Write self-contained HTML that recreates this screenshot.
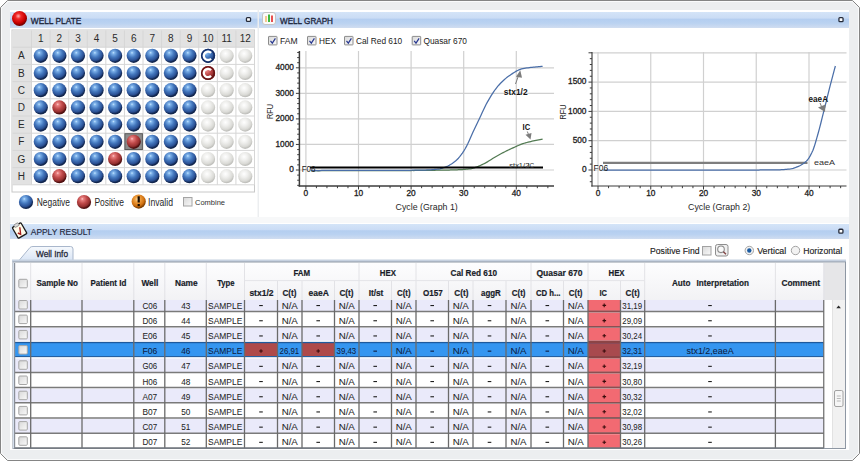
<!DOCTYPE html><html><head><meta charset="utf-8"><style>html,body{margin:0;padding:0;width:860px;height:461px;overflow:hidden;background:#fff;}svg{position:absolute;left:0;top:0;display:block;} text{font-family:"Liberation Sans",sans-serif;white-space:pre;}</style></head><body><svg width="860" height="461" viewBox="0 0 860 461" shape-rendering="auto"><defs>
<linearGradient id="hdr" x1="0" y1="0" x2="0" y2="1"><stop offset="0" stop-color="#d4e4f8"/><stop offset="0.38" stop-color="#cadcf5"/><stop offset="0.45" stop-color="#b4cef0"/><stop offset="0.7" stop-color="#bad2f1"/><stop offset="1" stop-color="#d0ddf0"/></linearGradient>
<radialGradient id="gb" cx="0.4" cy="0.32" fx="0.38" fy="0.28" r="0.62"><stop offset="0" stop-color="#c4e6ff"/><stop offset="0.15" stop-color="#7eb2ea"/><stop offset="0.5" stop-color="#4478be"/><stop offset="0.82" stop-color="#2a5094"/><stop offset="1" stop-color="#12264e"/></radialGradient>
<radialGradient id="gr" cx="0.4" cy="0.32" fx="0.38" fy="0.28" r="0.62"><stop offset="0" stop-color="#ffd0d0"/><stop offset="0.15" stop-color="#e88080"/><stop offset="0.5" stop-color="#c04a4a"/><stop offset="0.82" stop-color="#963030"/><stop offset="1" stop-color="#501010"/></radialGradient>
<radialGradient id="gw" cx="0.42" cy="0.34" r="0.62"><stop offset="0" stop-color="#ffffff"/><stop offset="0.4" stop-color="#efefed"/><stop offset="0.8" stop-color="#dadad6"/><stop offset="1" stop-color="#c0c0bc"/></radialGradient>
<radialGradient id="go" cx="0.42" cy="0.34" r="0.62"><stop offset="0" stop-color="#ffe0a8"/><stop offset="0.3" stop-color="#f0a040"/><stop offset="0.75" stop-color="#d07010"/><stop offset="1" stop-color="#7a3c00"/></radialGradient>
<radialGradient id="gred" cx="0.42" cy="0.34" r="0.62"><stop offset="0" stop-color="#ffb0b0"/><stop offset="0.3" stop-color="#f02828"/><stop offset="0.75" stop-color="#c80000"/><stop offset="1" stop-color="#780000"/></radialGradient>
<linearGradient id="hg" x1="0" y1="0" x2="0" y2="1"><stop offset="0" stop-color="#fdfdfe"/><stop offset="1" stop-color="#f2f2f5"/></linearGradient>
<linearGradient id="tabg" x1="0" y1="0" x2="0" y2="1"><stop offset="0" stop-color="#f6f9fd"/><stop offset="1" stop-color="#d9e5f5"/></linearGradient>
<linearGradient id="cbg" x1="0" y1="0" x2="1" y2="1"><stop offset="0" stop-color="#d8d8d8"/><stop offset="1" stop-color="#fafafa"/></linearGradient>
</defs><path d="M7.5,0.5 L852.5,0.5 L859.5,7.5 L859.5,453.5 L852.5,460.5 L7.5,460.5 L0.5,453.5 L0.5,7.5 Z" fill="#eceef0" stroke="#858585" stroke-width="1"/><path d="M8,1.5 L852,1.5 L858.5,8 L858.5,453 L852,459.5 L8,459.5 L1.5,453 L1.5,8 Z" fill="none" stroke="#fafbfc" stroke-width="1"/><rect x="10" y="28" width="247.5" height="189" fill="#fff"/><rect x="10" y="10" width="247.5" height="2" fill="#fff"/><rect x="10" y="12" width="247.5" height="16" fill="url(#hdr)"/><rect x="259" y="28" width="590" height="189" fill="#fff"/><rect x="259" y="10" width="590" height="2" fill="#fff"/><rect x="259" y="12" width="590" height="16" fill="url(#hdr)"/><rect x="10" y="217" width="839" height="7" fill="#f7f8f9"/><rect x="10" y="239" width="839" height="211" fill="#fff"/><rect x="10" y="223" width="839" height="1" fill="#fff"/><rect x="10" y="224" width="839" height="15" fill="url(#hdr)"/><rect x="246.45" y="17.55" width="4.1" height="3.9" rx="0.9" fill="#fff" stroke="#252b3a" stroke-width="1.3"/><rect x="838.95" y="17.65" width="4.1" height="3.9" rx="0.9" fill="#fff" stroke="#252b3a" stroke-width="1.3"/><rect x="838.85" y="229.25" width="4.1" height="3.9" rx="0.9" fill="#fff" stroke="#252b3a" stroke-width="1.3"/><circle cx="19.5" cy="18.5" r="7.5" fill="url(#gred)"/><text x="30.80" y="23.60" font-size="9.3" fill="#1e273c" textLength="50.50" lengthAdjust="spacingAndGlyphs" stroke="#1e273c" stroke-width="0.35">WELL PLATE</text><rect x="262.5" y="12.5" width="13" height="12" rx="2.5" fill="#fafafa" stroke="#c4c4c4" stroke-width="1"/><rect x="265" y="16" width="2" height="6" fill="#f4c890"/><rect x="268" y="14.5" width="2" height="7.5" fill="#40b840"/><rect x="271" y="15.5" width="2" height="6.5" fill="#e85050"/><text x="280.00" y="23.60" font-size="9.3" fill="#1e273c" textLength="53.00" lengthAdjust="spacingAndGlyphs" stroke="#1e273c" stroke-width="0.35">WELL GRAPH</text><g transform="translate(19.5,230.3) rotate(-30)"><rect x="-5" y="-6" width="10" height="12.5" rx="1" fill="#fffbea" stroke="#1a1a1a" stroke-width="1.3"/><rect x="-2.5" y="-7.5" width="5" height="3" rx="1" fill="#d8d8d8" stroke="#707070" stroke-width="0.6"/><path d="M-2.8,1.5 L-1,4 L1.8,-2.5" fill="none" stroke="#a82020" stroke-width="1.4"/></g><text x="30.80" y="234.90" font-size="9.3" fill="#1e273c" textLength="61.20" lengthAdjust="spacingAndGlyphs" stroke="#1e273c" stroke-width="0.15">APPLY RESULT</text><rect x="12" y="30" width="242.5" height="162" fill="#fff" stroke="#c8c8c8" stroke-width="1"/><rect x="12.5" y="30.5" width="241.5" height="16.7" fill="#e2e2e2"/><rect x="12.5" y="30.5" width="18.5" height="154.3" fill="#e2e2e2"/><line x1="31.50" y1="30.5" x2="31.50" y2="184.8" stroke="#d6d6d6" stroke-width="1"/><line x1="50.08" y1="30.5" x2="50.08" y2="184.8" stroke="#d6d6d6" stroke-width="1"/><line x1="68.67" y1="30.5" x2="68.67" y2="184.8" stroke="#d6d6d6" stroke-width="1"/><line x1="87.25" y1="30.5" x2="87.25" y2="184.8" stroke="#d6d6d6" stroke-width="1"/><line x1="105.83" y1="30.5" x2="105.83" y2="184.8" stroke="#d6d6d6" stroke-width="1"/><line x1="124.42" y1="30.5" x2="124.42" y2="184.8" stroke="#d6d6d6" stroke-width="1"/><line x1="143.00" y1="30.5" x2="143.00" y2="184.8" stroke="#d6d6d6" stroke-width="1"/><line x1="161.58" y1="30.5" x2="161.58" y2="184.8" stroke="#d6d6d6" stroke-width="1"/><line x1="180.17" y1="30.5" x2="180.17" y2="184.8" stroke="#d6d6d6" stroke-width="1"/><line x1="198.75" y1="30.5" x2="198.75" y2="184.8" stroke="#d6d6d6" stroke-width="1"/><line x1="217.33" y1="30.5" x2="217.33" y2="184.8" stroke="#d6d6d6" stroke-width="1"/><line x1="235.92" y1="30.5" x2="235.92" y2="184.8" stroke="#d6d6d6" stroke-width="1"/><line x1="254.50" y1="30.5" x2="254.50" y2="184.8" stroke="#d6d6d6" stroke-width="1"/><line x1="12.5" y1="47.20" x2="254.5" y2="47.20" stroke="#d6d6d6" stroke-width="1"/><line x1="12.5" y1="64.40" x2="254.5" y2="64.40" stroke="#d6d6d6" stroke-width="1"/><line x1="12.5" y1="81.60" x2="254.5" y2="81.60" stroke="#d6d6d6" stroke-width="1"/><line x1="12.5" y1="98.80" x2="254.5" y2="98.80" stroke="#d6d6d6" stroke-width="1"/><line x1="12.5" y1="116.00" x2="254.5" y2="116.00" stroke="#d6d6d6" stroke-width="1"/><line x1="12.5" y1="133.20" x2="254.5" y2="133.20" stroke="#d6d6d6" stroke-width="1"/><line x1="12.5" y1="150.40" x2="254.5" y2="150.40" stroke="#d6d6d6" stroke-width="1"/><line x1="12.5" y1="167.60" x2="254.5" y2="167.60" stroke="#d6d6d6" stroke-width="1"/><line x1="12.5" y1="184.80" x2="254.5" y2="184.80" stroke="#d6d6d6" stroke-width="1"/><text x="40.79" y="42.3" font-size="10" fill="#2a2a2a" text-anchor="middle">1</text><text x="59.38" y="42.3" font-size="10" fill="#2a2a2a" text-anchor="middle">2</text><text x="77.96" y="42.3" font-size="10" fill="#2a2a2a" text-anchor="middle">3</text><text x="96.54" y="42.3" font-size="10" fill="#2a2a2a" text-anchor="middle">4</text><text x="115.12" y="42.3" font-size="10" fill="#2a2a2a" text-anchor="middle">5</text><text x="133.71" y="42.3" font-size="10" fill="#2a2a2a" text-anchor="middle">6</text><text x="152.29" y="42.3" font-size="10" fill="#2a2a2a" text-anchor="middle">7</text><text x="170.88" y="42.3" font-size="10" fill="#2a2a2a" text-anchor="middle">8</text><text x="189.46" y="42.3" font-size="10" fill="#2a2a2a" text-anchor="middle">9</text><text x="208.04" y="42.3" font-size="10" fill="#2a2a2a" text-anchor="middle">10</text><text x="226.62" y="42.3" font-size="10" fill="#2a2a2a" text-anchor="middle">11</text><text x="245.21" y="42.3" font-size="10" fill="#2a2a2a" text-anchor="middle">12</text><text x="21.3" y="59.40" font-size="10" fill="#2a2a2a" text-anchor="middle">A</text><text x="21.3" y="76.60" font-size="10" fill="#2a2a2a" text-anchor="middle">B</text><text x="21.3" y="93.80" font-size="10" fill="#2a2a2a" text-anchor="middle">C</text><text x="21.3" y="111.00" font-size="10" fill="#2a2a2a" text-anchor="middle">D</text><text x="21.3" y="128.20" font-size="10" fill="#2a2a2a" text-anchor="middle">E</text><text x="21.3" y="145.40" font-size="10" fill="#2a2a2a" text-anchor="middle">F</text><text x="21.3" y="162.60" font-size="10" fill="#2a2a2a" text-anchor="middle">G</text><text x="21.3" y="179.80" font-size="10" fill="#2a2a2a" text-anchor="middle">H</text><circle cx="40.79" cy="55.80" r="7.1" fill="url(#gb)"/><circle cx="59.38" cy="55.80" r="7.1" fill="url(#gb)"/><circle cx="77.96" cy="55.80" r="7.1" fill="url(#gb)"/><circle cx="96.54" cy="55.80" r="7.1" fill="url(#gb)"/><circle cx="115.12" cy="55.80" r="7.1" fill="url(#gb)"/><circle cx="133.71" cy="55.80" r="7.1" fill="url(#gb)"/><circle cx="152.29" cy="55.80" r="7.1" fill="url(#gb)"/><circle cx="170.88" cy="55.80" r="7.1" fill="url(#gb)"/><circle cx="189.46" cy="55.80" r="7.1" fill="url(#gb)"/><circle cx="208.04" cy="55.80" r="7.1" fill="url(#gb)"/><circle cx="208.04" cy="55.80" r="6.3" fill="none" stroke="#16306a" stroke-width="1.6"/><path d="M 211.04 52.90 A 4.2 4.2 0 1 0 211.04 58.70" fill="none" stroke="#fff" stroke-width="2.3"/><circle cx="226.62" cy="55.80" r="7.1" fill="url(#gw)"/><circle cx="245.21" cy="55.80" r="7.1" fill="url(#gw)"/><circle cx="40.79" cy="73.00" r="7.1" fill="url(#gb)"/><circle cx="59.38" cy="73.00" r="7.1" fill="url(#gb)"/><circle cx="77.96" cy="73.00" r="7.1" fill="url(#gb)"/><circle cx="96.54" cy="73.00" r="7.1" fill="url(#gb)"/><circle cx="115.12" cy="73.00" r="7.1" fill="url(#gb)"/><circle cx="133.71" cy="73.00" r="7.1" fill="url(#gb)"/><circle cx="152.29" cy="73.00" r="7.1" fill="url(#gb)"/><circle cx="170.88" cy="73.00" r="7.1" fill="url(#gb)"/><circle cx="189.46" cy="73.00" r="7.1" fill="url(#gb)"/><circle cx="208.04" cy="73.00" r="7.1" fill="url(#gr)"/><circle cx="208.04" cy="73.00" r="6.3" fill="none" stroke="#6a1414" stroke-width="1.6"/><path d="M 211.04 70.10 A 4.2 4.2 0 1 0 211.04 75.90" fill="none" stroke="#fff" stroke-width="2.3"/><circle cx="226.62" cy="73.00" r="7.1" fill="url(#gw)"/><circle cx="245.21" cy="73.00" r="7.1" fill="url(#gw)"/><circle cx="40.79" cy="90.20" r="7.1" fill="url(#gb)"/><circle cx="59.38" cy="90.20" r="7.1" fill="url(#gb)"/><circle cx="77.96" cy="90.20" r="7.1" fill="url(#gb)"/><circle cx="96.54" cy="90.20" r="7.1" fill="url(#gb)"/><circle cx="115.12" cy="90.20" r="7.1" fill="url(#gb)"/><circle cx="133.71" cy="90.20" r="7.1" fill="url(#gb)"/><circle cx="152.29" cy="90.20" r="7.1" fill="url(#gb)"/><circle cx="170.88" cy="90.20" r="7.1" fill="url(#gb)"/><circle cx="189.46" cy="90.20" r="7.1" fill="url(#gb)"/><circle cx="208.04" cy="90.20" r="7.1" fill="url(#gw)"/><circle cx="226.62" cy="90.20" r="7.1" fill="url(#gw)"/><circle cx="245.21" cy="90.20" r="7.1" fill="url(#gw)"/><circle cx="40.79" cy="107.40" r="7.1" fill="url(#gb)"/><circle cx="59.38" cy="107.40" r="7.1" fill="url(#gr)"/><circle cx="77.96" cy="107.40" r="7.1" fill="url(#gb)"/><circle cx="96.54" cy="107.40" r="7.1" fill="url(#gb)"/><circle cx="115.12" cy="107.40" r="7.1" fill="url(#gb)"/><circle cx="133.71" cy="107.40" r="7.1" fill="url(#gb)"/><circle cx="152.29" cy="107.40" r="7.1" fill="url(#gb)"/><circle cx="170.88" cy="107.40" r="7.1" fill="url(#gb)"/><circle cx="189.46" cy="107.40" r="7.1" fill="url(#gb)"/><circle cx="208.04" cy="107.40" r="7.1" fill="url(#gw)"/><circle cx="226.62" cy="107.40" r="7.1" fill="url(#gw)"/><circle cx="245.21" cy="107.40" r="7.1" fill="url(#gw)"/><circle cx="40.79" cy="124.60" r="7.1" fill="url(#gb)"/><circle cx="59.38" cy="124.60" r="7.1" fill="url(#gb)"/><circle cx="77.96" cy="124.60" r="7.1" fill="url(#gb)"/><circle cx="96.54" cy="124.60" r="7.1" fill="url(#gb)"/><circle cx="115.12" cy="124.60" r="7.1" fill="url(#gb)"/><circle cx="133.71" cy="124.60" r="7.1" fill="url(#gb)"/><circle cx="152.29" cy="124.60" r="7.1" fill="url(#gb)"/><circle cx="170.88" cy="124.60" r="7.1" fill="url(#gb)"/><circle cx="189.46" cy="124.60" r="7.1" fill="url(#gb)"/><circle cx="208.04" cy="124.60" r="7.1" fill="url(#gw)"/><circle cx="226.62" cy="124.60" r="7.1" fill="url(#gw)"/><circle cx="245.21" cy="124.60" r="7.1" fill="url(#gw)"/><circle cx="40.79" cy="141.80" r="7.1" fill="url(#gb)"/><circle cx="59.38" cy="141.80" r="7.1" fill="url(#gb)"/><circle cx="77.96" cy="141.80" r="7.1" fill="url(#gb)"/><circle cx="96.54" cy="141.80" r="7.1" fill="url(#gb)"/><circle cx="115.12" cy="141.80" r="7.1" fill="url(#gb)"/><rect x="124.91" y="133.70" width="17.5" height="15.8" fill="#8c8c8c" stroke="#5a5a5a" stroke-width="1"/><circle cx="133.71" cy="141.80" r="7.1" fill="url(#gr)"/><circle cx="152.29" cy="141.80" r="7.1" fill="url(#gb)"/><circle cx="170.88" cy="141.80" r="7.1" fill="url(#gb)"/><circle cx="189.46" cy="141.80" r="7.1" fill="url(#gb)"/><circle cx="208.04" cy="141.80" r="7.1" fill="url(#gw)"/><circle cx="226.62" cy="141.80" r="7.1" fill="url(#gw)"/><circle cx="245.21" cy="141.80" r="7.1" fill="url(#gw)"/><circle cx="40.79" cy="159.00" r="7.1" fill="url(#gb)"/><circle cx="59.38" cy="159.00" r="7.1" fill="url(#gb)"/><circle cx="77.96" cy="159.00" r="7.1" fill="url(#gb)"/><circle cx="96.54" cy="159.00" r="7.1" fill="url(#gb)"/><circle cx="115.12" cy="159.00" r="7.1" fill="url(#gr)"/><circle cx="133.71" cy="159.00" r="7.1" fill="url(#gb)"/><circle cx="152.29" cy="159.00" r="7.1" fill="url(#gb)"/><circle cx="170.88" cy="159.00" r="7.1" fill="url(#gb)"/><circle cx="189.46" cy="159.00" r="7.1" fill="url(#gb)"/><circle cx="208.04" cy="159.00" r="7.1" fill="url(#gw)"/><circle cx="226.62" cy="159.00" r="7.1" fill="url(#gw)"/><circle cx="245.21" cy="159.00" r="7.1" fill="url(#gw)"/><circle cx="40.79" cy="176.20" r="7.1" fill="url(#gb)"/><circle cx="59.38" cy="176.20" r="7.1" fill="url(#gr)"/><circle cx="77.96" cy="176.20" r="7.1" fill="url(#gb)"/><circle cx="96.54" cy="176.20" r="7.1" fill="url(#gb)"/><circle cx="115.12" cy="176.20" r="7.1" fill="url(#gb)"/><circle cx="133.71" cy="176.20" r="7.1" fill="url(#gb)"/><circle cx="152.29" cy="176.20" r="7.1" fill="url(#gb)"/><circle cx="170.88" cy="176.20" r="7.1" fill="url(#gb)"/><circle cx="189.46" cy="176.20" r="7.1" fill="url(#gb)"/><circle cx="208.04" cy="176.20" r="7.1" fill="url(#gw)"/><circle cx="226.62" cy="176.20" r="7.1" fill="url(#gw)"/><circle cx="245.21" cy="176.20" r="7.1" fill="url(#gw)"/><circle cx="26" cy="202" r="7.1" fill="url(#gb)"/><circle cx="84" cy="202" r="7.1" fill="url(#gr)"/><circle cx="138.7" cy="201.6" r="7.1" fill="url(#go)"/><rect x="137.6" y="196.3" width="2.2" height="6.2" fill="#1a0c00"/><rect x="137.6" y="204" width="2.2" height="2.1" fill="#1a0c00"/><text x="36.80" y="206.00" font-size="10" fill="#282828" textLength="33.20" lengthAdjust="spacingAndGlyphs" >Negative</text><text x="94.40" y="206.00" font-size="10" fill="#282828" textLength="29.60" lengthAdjust="spacingAndGlyphs" >Positive</text><text x="148.00" y="206.00" font-size="10" fill="#282828" textLength="25.00" lengthAdjust="spacingAndGlyphs" >Invalid</text><rect x="183.5" y="197.5" width="8.5" height="8.5" fill="url(#cbg)" stroke="#a4a4a4" stroke-width="1"/><text x="195.00" y="204.80" font-size="8" fill="#303030" textLength="30.00" lengthAdjust="spacingAndGlyphs" >Combine</text><rect x="268.5" y="36.4" width="8.5" height="8.5" rx="0.5" fill="url(#cbg)" stroke="#8c8c8c" stroke-width="1"/><path d="M270.5,40.8 L272.3,43.1 L275.4,38.3" fill="none" stroke="#283890" stroke-width="1.2"/><text x="280.00" y="43.90" font-size="9.6" fill="#222" textLength="17.60" lengthAdjust="spacingAndGlyphs" >FAM</text><rect x="307.5" y="36.4" width="8.5" height="8.5" rx="0.5" fill="url(#cbg)" stroke="#8c8c8c" stroke-width="1"/><path d="M309.5,40.8 L311.3,43.1 L314.4,38.3" fill="none" stroke="#283890" stroke-width="1.2"/><text x="319.00" y="43.90" font-size="9.6" fill="#222" textLength="17.00" lengthAdjust="spacingAndGlyphs" >HEX</text><rect x="344.5" y="36.4" width="8.5" height="8.5" rx="0.5" fill="url(#cbg)" stroke="#8c8c8c" stroke-width="1"/><path d="M346.5,40.8 L348.3,43.1 L351.4,38.3" fill="none" stroke="#283890" stroke-width="1.2"/><text x="356.00" y="43.90" font-size="9.6" fill="#222" textLength="46.20" lengthAdjust="spacingAndGlyphs" >Cal Red 610</text><rect x="412.2" y="36.4" width="8.5" height="8.5" rx="0.5" fill="url(#cbg)" stroke="#8c8c8c" stroke-width="1"/><path d="M414.2,40.8 L416.0,43.1 L419.09999999999997,38.3" fill="none" stroke="#283890" stroke-width="1.2"/><text x="423.40" y="43.90" font-size="9.6" fill="#222" textLength="43.60" lengthAdjust="spacingAndGlyphs" >Quasar 670</text><line x1="299.4" y1="170.00" x2="554" y2="170.00" stroke="#d0d0d0" stroke-width="1.2"/><line x1="299.4" y1="144.45" x2="554" y2="144.45" stroke="#d0d0d0" stroke-width="1.2"/><line x1="299.4" y1="118.90" x2="554" y2="118.90" stroke="#d0d0d0" stroke-width="1.2"/><line x1="299.4" y1="93.35" x2="554" y2="93.35" stroke="#d0d0d0" stroke-width="1.2"/><line x1="299.4" y1="67.80" x2="554" y2="67.80" stroke="#d0d0d0" stroke-width="1.2"/><line x1="305.90" y1="51" x2="305.90" y2="186" stroke="#d0d0d0" stroke-width="1.2"/><line x1="358.50" y1="51" x2="358.50" y2="186" stroke="#d0d0d0" stroke-width="1.2"/><line x1="411.10" y1="51" x2="411.10" y2="186" stroke="#d0d0d0" stroke-width="1.2"/><line x1="463.70" y1="51" x2="463.70" y2="186" stroke="#d0d0d0" stroke-width="1.2"/><line x1="516.30" y1="51" x2="516.30" y2="186" stroke="#d0d0d0" stroke-width="1.2"/><line x1="299.4" y1="51" x2="299.4" y2="186.6" stroke="#3c3c3c" stroke-width="1.5"/><line x1="298.7" y1="186" x2="554" y2="186" stroke="#3c3c3c" stroke-width="1.5"/><line x1="297.20" y1="185.33" x2="299.4" y2="185.33" stroke="#3c3c3c" stroke-width="1"/><line x1="297.20" y1="180.22" x2="299.4" y2="180.22" stroke="#3c3c3c" stroke-width="1"/><line x1="297.20" y1="175.11" x2="299.4" y2="175.11" stroke="#3c3c3c" stroke-width="1"/><line x1="295.90" y1="170.00" x2="299.4" y2="170.00" stroke="#3c3c3c" stroke-width="1"/><line x1="297.20" y1="164.89" x2="299.4" y2="164.89" stroke="#3c3c3c" stroke-width="1"/><line x1="297.20" y1="159.78" x2="299.4" y2="159.78" stroke="#3c3c3c" stroke-width="1"/><line x1="297.20" y1="154.67" x2="299.4" y2="154.67" stroke="#3c3c3c" stroke-width="1"/><line x1="297.20" y1="149.56" x2="299.4" y2="149.56" stroke="#3c3c3c" stroke-width="1"/><line x1="295.90" y1="144.45" x2="299.4" y2="144.45" stroke="#3c3c3c" stroke-width="1"/><line x1="297.20" y1="139.34" x2="299.4" y2="139.34" stroke="#3c3c3c" stroke-width="1"/><line x1="297.20" y1="134.23" x2="299.4" y2="134.23" stroke="#3c3c3c" stroke-width="1"/><line x1="297.20" y1="129.12" x2="299.4" y2="129.12" stroke="#3c3c3c" stroke-width="1"/><line x1="297.20" y1="124.01" x2="299.4" y2="124.01" stroke="#3c3c3c" stroke-width="1"/><line x1="295.90" y1="118.90" x2="299.4" y2="118.90" stroke="#3c3c3c" stroke-width="1"/><line x1="297.20" y1="113.79" x2="299.4" y2="113.79" stroke="#3c3c3c" stroke-width="1"/><line x1="297.20" y1="108.68" x2="299.4" y2="108.68" stroke="#3c3c3c" stroke-width="1"/><line x1="297.20" y1="103.57" x2="299.4" y2="103.57" stroke="#3c3c3c" stroke-width="1"/><line x1="297.20" y1="98.46" x2="299.4" y2="98.46" stroke="#3c3c3c" stroke-width="1"/><line x1="295.90" y1="93.35" x2="299.4" y2="93.35" stroke="#3c3c3c" stroke-width="1"/><line x1="297.20" y1="88.24" x2="299.4" y2="88.24" stroke="#3c3c3c" stroke-width="1"/><line x1="297.20" y1="83.13" x2="299.4" y2="83.13" stroke="#3c3c3c" stroke-width="1"/><line x1="297.20" y1="78.02" x2="299.4" y2="78.02" stroke="#3c3c3c" stroke-width="1"/><line x1="297.20" y1="72.91" x2="299.4" y2="72.91" stroke="#3c3c3c" stroke-width="1"/><line x1="295.90" y1="67.80" x2="299.4" y2="67.80" stroke="#3c3c3c" stroke-width="1"/><line x1="297.20" y1="62.69" x2="299.4" y2="62.69" stroke="#3c3c3c" stroke-width="1"/><line x1="297.20" y1="57.58" x2="299.4" y2="57.58" stroke="#3c3c3c" stroke-width="1"/><line x1="297.20" y1="52.47" x2="299.4" y2="52.47" stroke="#3c3c3c" stroke-width="1"/><line x1="305.90" y1="186" x2="305.90" y2="189.5" stroke="#3c3c3c" stroke-width="1"/><line x1="316.42" y1="186" x2="316.42" y2="188.2" stroke="#3c3c3c" stroke-width="1"/><line x1="326.94" y1="186" x2="326.94" y2="188.2" stroke="#3c3c3c" stroke-width="1"/><line x1="337.46" y1="186" x2="337.46" y2="188.2" stroke="#3c3c3c" stroke-width="1"/><line x1="347.98" y1="186" x2="347.98" y2="188.2" stroke="#3c3c3c" stroke-width="1"/><line x1="358.50" y1="186" x2="358.50" y2="189.5" stroke="#3c3c3c" stroke-width="1"/><line x1="369.02" y1="186" x2="369.02" y2="188.2" stroke="#3c3c3c" stroke-width="1"/><line x1="379.54" y1="186" x2="379.54" y2="188.2" stroke="#3c3c3c" stroke-width="1"/><line x1="390.06" y1="186" x2="390.06" y2="188.2" stroke="#3c3c3c" stroke-width="1"/><line x1="400.58" y1="186" x2="400.58" y2="188.2" stroke="#3c3c3c" stroke-width="1"/><line x1="411.10" y1="186" x2="411.10" y2="189.5" stroke="#3c3c3c" stroke-width="1"/><line x1="421.62" y1="186" x2="421.62" y2="188.2" stroke="#3c3c3c" stroke-width="1"/><line x1="432.14" y1="186" x2="432.14" y2="188.2" stroke="#3c3c3c" stroke-width="1"/><line x1="442.66" y1="186" x2="442.66" y2="188.2" stroke="#3c3c3c" stroke-width="1"/><line x1="453.18" y1="186" x2="453.18" y2="188.2" stroke="#3c3c3c" stroke-width="1"/><line x1="463.70" y1="186" x2="463.70" y2="189.5" stroke="#3c3c3c" stroke-width="1"/><line x1="474.22" y1="186" x2="474.22" y2="188.2" stroke="#3c3c3c" stroke-width="1"/><line x1="484.74" y1="186" x2="484.74" y2="188.2" stroke="#3c3c3c" stroke-width="1"/><line x1="495.26" y1="186" x2="495.26" y2="188.2" stroke="#3c3c3c" stroke-width="1"/><line x1="505.78" y1="186" x2="505.78" y2="188.2" stroke="#3c3c3c" stroke-width="1"/><line x1="516.30" y1="186" x2="516.30" y2="189.5" stroke="#3c3c3c" stroke-width="1"/><line x1="526.82" y1="186" x2="526.82" y2="188.2" stroke="#3c3c3c" stroke-width="1"/><line x1="537.34" y1="186" x2="537.34" y2="188.2" stroke="#3c3c3c" stroke-width="1"/><line x1="547.86" y1="186" x2="547.86" y2="188.2" stroke="#3c3c3c" stroke-width="1"/><text x="293.90" y="172.20" font-size="8.3" fill="#222" text-anchor="end" stroke="#222" stroke-width="0.3">0</text><text x="293.90" y="146.65" font-size="8.3" fill="#222" text-anchor="end" stroke="#222" stroke-width="0.3">1000</text><text x="293.90" y="121.10" font-size="8.3" fill="#222" text-anchor="end" stroke="#222" stroke-width="0.3">2000</text><text x="293.90" y="95.55" font-size="8.3" fill="#222" text-anchor="end" stroke="#222" stroke-width="0.3">3000</text><text x="293.90" y="70.00" font-size="8.3" fill="#222" text-anchor="end" stroke="#222" stroke-width="0.3">4000</text><text x="305.90" y="196.3" font-size="8.3" fill="#222" text-anchor="middle" stroke="#222" stroke-width="0.3">0</text><text x="358.50" y="196.3" font-size="8.3" fill="#222" text-anchor="middle" stroke="#222" stroke-width="0.3">10</text><text x="411.10" y="196.3" font-size="8.3" fill="#222" text-anchor="middle" stroke="#222" stroke-width="0.3">20</text><text x="463.70" y="196.3" font-size="8.3" fill="#222" text-anchor="middle" stroke="#222" stroke-width="0.3">30</text><text x="516.30" y="196.3" font-size="8.3" fill="#222" text-anchor="middle" stroke="#222" stroke-width="0.3">40</text><text x="426.7" y="210.1" font-size="9" fill="#282828" text-anchor="middle" textLength="62.2" lengthAdjust="spacingAndGlyphs">Cycle (Graph 1)</text><text transform="translate(273.2,111.5) rotate(-90)" x="0" y="0" font-size="9" fill="#282828" text-anchor="middle" textLength="15" lengthAdjust="spacingAndGlyphs">RFU</text><path d="M311.16,170.77 L312.47,170.76 L313.79,170.76 L315.10,170.76 L316.42,170.75 L317.73,170.75 L319.05,170.75 L320.36,170.74 L321.68,170.74 L323.00,170.74 L324.31,170.74 L325.62,170.73 L326.94,170.73 L328.25,170.73 L329.57,170.73 L330.88,170.72 L332.20,170.72 L333.51,170.72 L334.83,170.72 L336.14,170.71 L337.46,170.71 L338.77,170.71 L340.09,170.71 L341.40,170.70 L342.72,170.70 L344.03,170.70 L345.35,170.70 L346.66,170.69 L347.98,170.69 L349.29,170.69 L350.61,170.69 L351.92,170.68 L353.24,170.68 L354.55,170.68 L355.87,170.68 L357.18,170.67 L358.50,170.67 L359.81,170.67 L361.13,170.67 L362.44,170.66 L363.76,170.66 L365.07,170.66 L366.39,170.66 L367.70,170.65 L369.02,170.65 L370.33,170.65 L371.65,170.64 L372.96,170.64 L374.28,170.64 L375.59,170.63 L376.91,170.63 L378.22,170.63 L379.54,170.62 L380.85,170.62 L382.17,170.62 L383.48,170.61 L384.80,170.61 L386.12,170.61 L387.43,170.60 L388.75,170.60 L390.06,170.59 L391.38,170.59 L392.69,170.59 L394.00,170.58 L395.32,170.58 L396.63,170.57 L397.95,170.57 L399.26,170.56 L400.58,170.56 L401.89,170.55 L403.21,170.55 L404.52,170.54 L405.84,170.53 L407.15,170.53 L408.47,170.52 L409.78,170.52 L411.10,170.51 L412.41,170.50 L413.73,170.50 L415.04,170.49 L416.36,170.48 L417.67,170.47 L418.99,170.45 L420.30,170.44 L421.62,170.43 L422.93,170.41 L424.25,170.40 L425.56,170.38 L426.88,170.37 L428.19,170.35 L429.51,170.33 L430.82,170.31 L432.14,170.29 L433.45,170.28 L434.77,170.26 L436.08,170.23 L437.40,170.21 L438.71,170.19 L440.03,170.17 L441.34,170.15 L442.66,170.13 L443.97,170.11 L445.29,170.08 L446.60,170.06 L447.92,170.03 L449.24,170.01 L450.55,169.98 L451.87,169.95 L453.18,169.91 L454.50,169.88 L455.81,169.84 L457.12,169.79 L458.44,169.74 L459.75,169.69 L461.07,169.62 L462.38,169.54 L463.70,169.45 L465.01,169.34 L466.33,169.22 L467.64,169.08 L468.96,168.93 L470.27,168.76 L471.59,168.54 L472.90,168.22 L474.22,167.83 L475.53,167.39 L476.85,166.93 L478.16,166.44 L479.48,165.90 L480.79,165.30 L482.11,164.67 L483.42,164.01 L484.74,163.34 L486.05,162.63 L487.37,161.87 L488.68,161.07 L490.00,160.26 L491.31,159.43 L492.63,158.59 L493.94,157.77 L495.26,156.96 L496.57,156.18 L497.89,155.44 L499.20,154.72 L500.52,154.02 L501.83,153.32 L503.15,152.63 L504.46,151.96 L505.78,151.30 L507.09,150.65 L508.41,150.01 L509.72,149.39 L511.04,148.78 L512.36,148.18 L513.67,147.58 L514.98,146.97 L516.30,146.38 L517.62,145.79 L518.93,145.23 L520.25,144.68 L521.56,144.16 L522.88,143.68 L524.19,143.24 L525.50,142.84 L526.82,142.48 L528.13,142.14 L529.45,141.82 L530.76,141.52 L532.08,141.23 L533.39,140.96 L534.71,140.69 L536.02,140.43 L537.34,140.17 L538.65,139.91 L539.97,139.64 L541.28,139.37 L542.60,139.08" fill="none" stroke="#527a52" stroke-width="1.25" stroke-linejoin="round"/><path d="M311.16,170.51 L312.47,170.51 L313.79,170.51 L315.10,170.50 L316.42,170.50 L317.73,170.50 L319.05,170.50 L320.36,170.50 L321.68,170.49 L323.00,170.49 L324.31,170.49 L325.62,170.49 L326.94,170.49 L328.25,170.49 L329.57,170.48 L330.88,170.48 L332.20,170.48 L333.51,170.48 L334.83,170.48 L336.14,170.47 L337.46,170.47 L338.77,170.47 L340.09,170.47 L341.40,170.47 L342.72,170.47 L344.03,170.46 L345.35,170.46 L346.66,170.46 L347.98,170.46 L349.29,170.46 L350.61,170.45 L351.92,170.45 L353.24,170.45 L354.55,170.45 L355.87,170.45 L357.18,170.44 L358.50,170.44 L359.81,170.44 L361.13,170.44 L362.44,170.44 L363.76,170.43 L365.07,170.43 L366.39,170.43 L367.70,170.43 L369.02,170.42 L370.33,170.42 L371.65,170.42 L372.96,170.41 L374.28,170.41 L375.59,170.41 L376.91,170.40 L378.22,170.40 L379.54,170.40 L380.85,170.39 L382.17,170.39 L383.48,170.39 L384.80,170.38 L386.12,170.38 L387.43,170.38 L388.75,170.37 L390.06,170.37 L391.38,170.36 L392.69,170.36 L394.00,170.35 L395.32,170.35 L396.63,170.34 L397.95,170.33 L399.26,170.33 L400.58,170.32 L401.89,170.31 L403.21,170.31 L404.52,170.30 L405.84,170.29 L407.15,170.28 L408.47,170.27 L409.78,170.26 L411.10,170.25 L412.41,170.23 L413.73,170.22 L415.04,170.21 L416.36,170.19 L417.67,170.18 L418.99,170.16 L420.30,170.15 L421.62,170.13 L422.93,170.11 L424.25,170.07 L425.56,170.03 L426.88,169.98 L428.19,169.92 L429.51,169.85 L430.82,169.77 L432.14,169.68 L433.45,169.59 L434.77,169.48 L436.08,169.36 L437.40,169.23 L438.71,169.05 L440.03,168.78 L441.34,168.44 L442.66,168.03 L443.97,167.58 L445.29,167.09 L446.60,166.57 L447.92,165.99 L449.24,165.32 L450.55,164.55 L451.87,163.71 L453.18,162.78 L454.50,161.77 L455.81,160.70 L457.12,159.54 L458.44,158.21 L459.75,156.67 L461.07,154.96 L462.38,153.08 L463.70,151.08 L465.01,148.97 L466.33,146.67 L467.64,144.03 L468.96,141.16 L470.27,138.16 L471.59,135.15 L472.90,132.24 L474.22,129.46 L475.53,126.70 L476.85,123.95 L478.16,121.21 L479.48,118.47 L480.79,115.69 L482.11,112.83 L483.42,109.95 L484.74,107.15 L486.05,104.52 L487.37,102.12 L488.68,99.82 L490.00,97.58 L491.31,95.42 L492.63,93.34 L493.94,91.37 L495.26,89.51 L496.57,87.79 L497.89,86.20 L499.20,84.72 L500.52,83.30 L501.83,81.96 L503.15,80.69 L504.46,79.50 L505.78,78.37 L507.09,77.32 L508.41,76.35 L509.72,75.43 L511.04,74.52 L512.36,73.62 L513.67,72.76 L514.98,71.93 L516.30,71.16 L517.62,70.46 L518.93,69.85 L520.25,69.34 L521.56,68.94 L522.88,68.66 L524.19,68.41 L525.50,68.19 L526.82,67.99 L528.13,67.80 L529.45,67.64 L530.76,67.49 L532.08,67.35 L533.39,67.21 L534.71,67.09 L536.02,66.96 L537.34,66.83 L538.65,66.70 L539.97,66.57 L541.28,66.42 L542.60,66.27" fill="none" stroke="#4a6ea8" stroke-width="1.25" stroke-linejoin="round"/><line x1="310" y1="167.4" x2="543" y2="167.4" stroke="#000" stroke-width="2"/><text x="301.7" y="171.6" font-size="8.5" fill="#202020" textLength="13.7" lengthAdjust="spacingAndGlyphs">F06</text><text x="509.3" y="167.6" font-size="6.5" fill="#303030" textLength="20" lengthAdjust="spacingAndGlyphs">stx1/2</text><text x="527.8" y="167.6" font-size="6.5" fill="#303030">IC</text><text x="503.80" y="95.30" font-size="9" fill="#141414" font-weight="bold" textLength="23.80" lengthAdjust="spacingAndGlyphs" >stx1/2</text><text x="522.60" y="130.30" font-size="9" fill="#141414" font-weight="bold" textLength="7.60" lengthAdjust="spacingAndGlyphs" >IC</text><line x1="515.5" y1="84" x2="518" y2="77" stroke="#7c7c7c" stroke-width="1"/><path d="M520.3,70.3 L516,76.8 L522,77.8 Z" fill="#7c7c7c"/><line x1="527.3" y1="131.5" x2="528.5" y2="134.5" stroke="#7c7c7c" stroke-width="1"/><path d="M530.5,139.6 L525.5,134.8 L531.5,133 Z" fill="#7c7c7c"/><line x1="592" y1="170.00" x2="846.5" y2="170.00" stroke="#d0d0d0" stroke-width="1.2"/><line x1="592" y1="140.70" x2="846.5" y2="140.70" stroke="#d0d0d0" stroke-width="1.2"/><line x1="592" y1="111.40" x2="846.5" y2="111.40" stroke="#d0d0d0" stroke-width="1.2"/><line x1="592" y1="82.10" x2="846.5" y2="82.10" stroke="#d0d0d0" stroke-width="1.2"/><line x1="592" y1="52.80" x2="846.5" y2="52.80" stroke="#d0d0d0" stroke-width="1.2"/><line x1="598.00" y1="52" x2="598.00" y2="186" stroke="#d0d0d0" stroke-width="1.2"/><line x1="650.75" y1="52" x2="650.75" y2="186" stroke="#d0d0d0" stroke-width="1.2"/><line x1="703.50" y1="52" x2="703.50" y2="186" stroke="#d0d0d0" stroke-width="1.2"/><line x1="756.25" y1="52" x2="756.25" y2="186" stroke="#d0d0d0" stroke-width="1.2"/><line x1="809.00" y1="52" x2="809.00" y2="186" stroke="#d0d0d0" stroke-width="1.2"/><line x1="592" y1="52" x2="592" y2="186.6" stroke="#3c3c3c" stroke-width="1.15"/><line x1="591.3" y1="186" x2="846.5" y2="186" stroke="#3c3c3c" stroke-width="1.15"/><line x1="589.80" y1="181.72" x2="592" y2="181.72" stroke="#3c3c3c" stroke-width="1"/><line x1="589.80" y1="175.86" x2="592" y2="175.86" stroke="#3c3c3c" stroke-width="1"/><line x1="588.50" y1="170.00" x2="592" y2="170.00" stroke="#3c3c3c" stroke-width="1"/><line x1="589.80" y1="164.14" x2="592" y2="164.14" stroke="#3c3c3c" stroke-width="1"/><line x1="589.80" y1="158.28" x2="592" y2="158.28" stroke="#3c3c3c" stroke-width="1"/><line x1="589.80" y1="152.42" x2="592" y2="152.42" stroke="#3c3c3c" stroke-width="1"/><line x1="589.80" y1="146.56" x2="592" y2="146.56" stroke="#3c3c3c" stroke-width="1"/><line x1="588.50" y1="140.70" x2="592" y2="140.70" stroke="#3c3c3c" stroke-width="1"/><line x1="589.80" y1="134.84" x2="592" y2="134.84" stroke="#3c3c3c" stroke-width="1"/><line x1="589.80" y1="128.98" x2="592" y2="128.98" stroke="#3c3c3c" stroke-width="1"/><line x1="589.80" y1="123.12" x2="592" y2="123.12" stroke="#3c3c3c" stroke-width="1"/><line x1="589.80" y1="117.26" x2="592" y2="117.26" stroke="#3c3c3c" stroke-width="1"/><line x1="588.50" y1="111.40" x2="592" y2="111.40" stroke="#3c3c3c" stroke-width="1"/><line x1="589.80" y1="105.54" x2="592" y2="105.54" stroke="#3c3c3c" stroke-width="1"/><line x1="589.80" y1="99.68" x2="592" y2="99.68" stroke="#3c3c3c" stroke-width="1"/><line x1="589.80" y1="93.82" x2="592" y2="93.82" stroke="#3c3c3c" stroke-width="1"/><line x1="589.80" y1="87.96" x2="592" y2="87.96" stroke="#3c3c3c" stroke-width="1"/><line x1="588.50" y1="82.10" x2="592" y2="82.10" stroke="#3c3c3c" stroke-width="1"/><line x1="589.80" y1="76.24" x2="592" y2="76.24" stroke="#3c3c3c" stroke-width="1"/><line x1="589.80" y1="70.38" x2="592" y2="70.38" stroke="#3c3c3c" stroke-width="1"/><line x1="589.80" y1="64.52" x2="592" y2="64.52" stroke="#3c3c3c" stroke-width="1"/><line x1="589.80" y1="58.66" x2="592" y2="58.66" stroke="#3c3c3c" stroke-width="1"/><line x1="588.50" y1="52.80" x2="592" y2="52.80" stroke="#3c3c3c" stroke-width="1"/><line x1="598.00" y1="186" x2="598.00" y2="189.5" stroke="#3c3c3c" stroke-width="1"/><line x1="608.55" y1="186" x2="608.55" y2="188.2" stroke="#3c3c3c" stroke-width="1"/><line x1="619.10" y1="186" x2="619.10" y2="188.2" stroke="#3c3c3c" stroke-width="1"/><line x1="629.65" y1="186" x2="629.65" y2="188.2" stroke="#3c3c3c" stroke-width="1"/><line x1="640.20" y1="186" x2="640.20" y2="188.2" stroke="#3c3c3c" stroke-width="1"/><line x1="650.75" y1="186" x2="650.75" y2="189.5" stroke="#3c3c3c" stroke-width="1"/><line x1="661.30" y1="186" x2="661.30" y2="188.2" stroke="#3c3c3c" stroke-width="1"/><line x1="671.85" y1="186" x2="671.85" y2="188.2" stroke="#3c3c3c" stroke-width="1"/><line x1="682.40" y1="186" x2="682.40" y2="188.2" stroke="#3c3c3c" stroke-width="1"/><line x1="692.95" y1="186" x2="692.95" y2="188.2" stroke="#3c3c3c" stroke-width="1"/><line x1="703.50" y1="186" x2="703.50" y2="189.5" stroke="#3c3c3c" stroke-width="1"/><line x1="714.05" y1="186" x2="714.05" y2="188.2" stroke="#3c3c3c" stroke-width="1"/><line x1="724.60" y1="186" x2="724.60" y2="188.2" stroke="#3c3c3c" stroke-width="1"/><line x1="735.15" y1="186" x2="735.15" y2="188.2" stroke="#3c3c3c" stroke-width="1"/><line x1="745.70" y1="186" x2="745.70" y2="188.2" stroke="#3c3c3c" stroke-width="1"/><line x1="756.25" y1="186" x2="756.25" y2="189.5" stroke="#3c3c3c" stroke-width="1"/><line x1="766.80" y1="186" x2="766.80" y2="188.2" stroke="#3c3c3c" stroke-width="1"/><line x1="777.35" y1="186" x2="777.35" y2="188.2" stroke="#3c3c3c" stroke-width="1"/><line x1="787.90" y1="186" x2="787.90" y2="188.2" stroke="#3c3c3c" stroke-width="1"/><line x1="798.45" y1="186" x2="798.45" y2="188.2" stroke="#3c3c3c" stroke-width="1"/><line x1="809.00" y1="186" x2="809.00" y2="189.5" stroke="#3c3c3c" stroke-width="1"/><line x1="819.55" y1="186" x2="819.55" y2="188.2" stroke="#3c3c3c" stroke-width="1"/><line x1="830.10" y1="186" x2="830.10" y2="188.2" stroke="#3c3c3c" stroke-width="1"/><line x1="840.65" y1="186" x2="840.65" y2="188.2" stroke="#3c3c3c" stroke-width="1"/><text x="586.50" y="172.20" font-size="8.3" fill="#222" text-anchor="end" stroke="#222" stroke-width="0.3">0</text><text x="586.50" y="142.90" font-size="8.3" fill="#222" text-anchor="end" stroke="#222" stroke-width="0.3">500</text><text x="586.50" y="113.60" font-size="8.3" fill="#222" text-anchor="end" stroke="#222" stroke-width="0.3">1000</text><text x="586.50" y="84.30" font-size="8.3" fill="#222" text-anchor="end" stroke="#222" stroke-width="0.3">1500</text><text x="598.00" y="196.3" font-size="8.3" fill="#222" text-anchor="middle" stroke="#222" stroke-width="0.3">0</text><text x="650.75" y="196.3" font-size="8.3" fill="#222" text-anchor="middle" stroke="#222" stroke-width="0.3">10</text><text x="703.50" y="196.3" font-size="8.3" fill="#222" text-anchor="middle" stroke="#222" stroke-width="0.3">20</text><text x="756.25" y="196.3" font-size="8.3" fill="#222" text-anchor="middle" stroke="#222" stroke-width="0.3">30</text><text x="809.00" y="196.3" font-size="8.3" fill="#222" text-anchor="middle" stroke="#222" stroke-width="0.3">40</text><text x="719.2" y="210.1" font-size="9" fill="#282828" text-anchor="middle" textLength="62.2" lengthAdjust="spacingAndGlyphs">Cycle (Graph 2)</text><text transform="translate(565.8,112) rotate(-90)" x="0" y="0" font-size="9" fill="#282828" text-anchor="middle" textLength="15" lengthAdjust="spacingAndGlyphs">RFU</text><line x1="603" y1="162.9" x2="807.5" y2="162.9" stroke="#7e7e7e" stroke-width="2.1"/><path d="M603.27,170.00 L604.59,170.00 L605.91,170.00 L607.23,170.00 L608.55,170.00 L609.87,170.00 L611.19,170.00 L612.51,170.00 L613.83,170.00 L615.14,170.00 L616.46,170.00 L617.78,170.00 L619.10,170.00 L620.42,170.00 L621.74,170.00 L623.06,170.00 L624.38,170.00 L625.69,170.00 L627.01,170.00 L628.33,170.00 L629.65,170.00 L630.97,170.00 L632.29,170.00 L633.61,170.00 L634.92,170.00 L636.24,170.00 L637.56,170.00 L638.88,170.00 L640.20,170.00 L641.52,170.00 L642.84,170.00 L644.16,170.00 L645.48,170.00 L646.79,170.00 L648.11,170.00 L649.43,170.00 L650.75,170.00 L652.07,170.00 L653.39,170.00 L654.71,170.00 L656.02,170.00 L657.34,170.00 L658.66,170.00 L659.98,170.00 L661.30,170.00 L662.62,170.00 L663.94,170.00 L665.26,170.00 L666.58,170.00 L667.89,170.00 L669.21,170.00 L670.53,170.00 L671.85,170.00 L673.17,170.00 L674.49,170.00 L675.81,170.00 L677.12,170.00 L678.44,170.00 L679.76,170.00 L681.08,170.00 L682.40,170.00 L683.72,170.00 L685.04,170.00 L686.36,170.00 L687.67,170.00 L688.99,170.00 L690.31,170.00 L691.63,170.00 L692.95,170.00 L694.27,170.00 L695.59,170.00 L696.91,170.00 L698.23,170.00 L699.54,170.00 L700.86,170.00 L702.18,170.00 L703.50,170.00 L704.82,170.00 L706.14,170.00 L707.46,170.00 L708.77,170.00 L710.09,170.00 L711.41,170.00 L712.73,170.00 L714.05,170.00 L715.37,170.00 L716.69,170.00 L718.01,170.00 L719.33,170.00 L720.64,170.00 L721.96,170.00 L723.28,170.00 L724.60,170.00 L725.92,170.00 L727.24,170.00 L728.56,170.00 L729.88,170.00 L731.19,170.00 L732.51,170.00 L733.83,170.00 L735.15,170.00 L736.47,170.00 L737.79,170.00 L739.11,170.00 L740.42,170.00 L741.74,170.00 L743.06,170.00 L744.38,170.00 L745.70,170.00 L747.02,170.00 L748.34,170.00 L749.66,170.00 L750.98,170.00 L752.29,170.00 L753.61,170.00 L754.93,170.00 L756.25,170.00 L757.57,170.00 L758.89,170.00 L760.21,169.99 L761.52,169.99 L762.84,169.98 L764.16,169.97 L765.48,169.96 L766.80,169.95 L768.12,169.94 L769.44,169.93 L770.76,169.91 L772.08,169.90 L773.39,169.88 L774.71,169.86 L776.03,169.84 L777.35,169.82 L778.67,169.80 L779.99,169.76 L781.31,169.70 L782.62,169.63 L783.94,169.55 L785.26,169.45 L786.58,169.35 L787.90,169.23 L789.22,169.09 L790.54,168.93 L791.86,168.68 L793.17,168.33 L794.49,167.90 L795.81,167.41 L797.13,166.87 L798.45,166.31 L799.77,165.70 L801.09,165.01 L802.41,164.22 L803.73,163.33 L805.04,162.30 L806.36,161.13 L807.68,159.75 L809.00,157.91 L810.32,155.65 L811.64,153.06 L812.96,150.17 L814.27,146.57 L815.59,142.28 L816.91,137.65 L818.23,132.97 L819.55,128.11 L820.87,122.98 L822.19,117.72 L823.51,112.45 L824.83,107.18 L826.14,101.80 L827.46,96.41 L828.78,91.09 L830.10,85.91 L831.42,80.86 L832.74,75.89 L834.06,70.95 L835.38,65.98" fill="none" stroke="#4a6ea8" stroke-width="1.25" stroke-linejoin="round"/><text x="593.6" y="171.4" font-size="8.5" fill="#202020" textLength="14.5" lengthAdjust="spacingAndGlyphs">F06</text><text x="814" y="165" font-size="8" fill="#303030" textLength="21" lengthAdjust="spacingAndGlyphs">eaeA</text><text x="808.60" y="101.70" font-size="9" fill="#141414" font-weight="bold" textLength="19.40" lengthAdjust="spacingAndGlyphs" >eaeA</text><line x1="820" y1="103" x2="821.5" y2="106.5" stroke="#7c7c7c" stroke-width="1"/><path d="M825,112 L818,107.5 L825.5,104.5 Z" fill="#7c7c7c"/><path d="M19,260.5 L30,247.5 Q31,246.5 33,246.5 L70.5,246.5 Q73,246.5 73,249 L73,260.5 Z" fill="url(#tabg)" stroke="#a9b7cc" stroke-width="1"/><text x="36.00" y="257.00" font-size="9.8" fill="#1e2636" textLength="32.00" lengthAdjust="spacingAndGlyphs" stroke="#1e2636" stroke-width="0.3">Well Info</text><rect x="12" y="259.5" width="834" height="2.5" fill="#c6d1e0"/><rect x="13" y="262" width="832.5" height="186.5" fill="#fff"/><rect x="13" y="263" width="810.8" height="37" fill="url(#hg)"/><rect x="823.8" y="263" width="21.700000000000045" height="37" fill="#e6e6e8"/><rect x="13" y="300" width="810.8" height="11.5" fill="#eaeafa"/><rect x="588" y="300" width="32.5" height="11.5" fill="#f26a72"/><rect x="13" y="312.5" width="810.8" height="14.3" fill="#ffffff"/><rect x="588" y="312.5" width="32.5" height="14.3" fill="#f26a72"/><rect x="13" y="327.8" width="810.8" height="14.2" fill="#eaeafa"/><rect x="588" y="327.8" width="32.5" height="14.2" fill="#f26a72"/><rect x="13" y="343.0" width="810.8" height="14.2" fill="#3596f0"/><rect x="588" y="343.0" width="32.5" height="14.2" fill="#a84a4e"/><rect x="244.5" y="343.0" width="33.0" height="14.2" fill="#ae4a4a"/><rect x="302" y="343.0" width="32.5" height="14.2" fill="#ae4a4a"/><rect x="13" y="358.2" width="810.8" height="14.2" fill="#eaeafa"/><rect x="588" y="358.2" width="32.5" height="14.2" fill="#f26a72"/><rect x="13" y="373.4" width="810.8" height="14.2" fill="#ffffff"/><rect x="588" y="373.4" width="32.5" height="14.2" fill="#f26a72"/><rect x="13" y="388.6" width="810.8" height="14.2" fill="#eaeafa"/><rect x="588" y="388.6" width="32.5" height="14.2" fill="#f26a72"/><rect x="13" y="403.8" width="810.8" height="14.2" fill="#ffffff"/><rect x="588" y="403.8" width="32.5" height="14.2" fill="#f26a72"/><rect x="13" y="419.0" width="810.8" height="14.2" fill="#eaeafa"/><rect x="588" y="419.0" width="32.5" height="14.2" fill="#f26a72"/><rect x="13" y="434.2" width="810.8" height="14.2" fill="#ffffff"/><rect x="588" y="434.2" width="32.5" height="14.2" fill="#f26a72"/><line x1="13" y1="311.5" x2="823.8" y2="311.5" stroke="#7a7a7a" stroke-width="1.5"/><line x1="13" y1="326.8" x2="823.8" y2="326.8" stroke="#7a7a7a" stroke-width="1.5"/><rect x="13" y="340.6" width="810.8" height="1.3" fill="#fbfbfd"/><rect x="13" y="341.9" width="810.8" height="1.3" fill="#1f5a9c"/><rect x="13" y="356.0" width="810.8" height="1.3" fill="#2660a0"/><rect x="13" y="357.3" width="810.8" height="1.2" fill="#fbfbfd"/><line x1="13" y1="372.4" x2="823.8" y2="372.4" stroke="#7a7a7a" stroke-width="1.5"/><line x1="13" y1="387.6" x2="823.8" y2="387.6" stroke="#7a7a7a" stroke-width="1.5"/><line x1="13" y1="402.8" x2="823.8" y2="402.8" stroke="#7a7a7a" stroke-width="1.5"/><line x1="13" y1="418.0" x2="823.8" y2="418.0" stroke="#7a7a7a" stroke-width="1.5"/><line x1="13" y1="433.2" x2="823.8" y2="433.2" stroke="#7a7a7a" stroke-width="1.5"/><line x1="588" y1="311.5" x2="620.5" y2="311.5" stroke="#8a5052" stroke-width="1.5"/><line x1="588" y1="326.8" x2="620.5" y2="326.8" stroke="#8a5052" stroke-width="1.5"/><rect x="588" y="340.6" width="32.5" height="2.6" fill="#8c4446"/><rect x="588" y="356.0" width="32.5" height="2.5" fill="#8c4446"/><line x1="588" y1="372.4" x2="620.5" y2="372.4" stroke="#8a5052" stroke-width="1.5"/><line x1="588" y1="387.6" x2="620.5" y2="387.6" stroke="#8a5052" stroke-width="1.5"/><line x1="588" y1="402.8" x2="620.5" y2="402.8" stroke="#8a5052" stroke-width="1.5"/><line x1="588" y1="418.0" x2="620.5" y2="418.0" stroke="#8a5052" stroke-width="1.5"/><line x1="588" y1="433.2" x2="620.5" y2="433.2" stroke="#8a5052" stroke-width="1.5"/><line x1="30.7" y1="300" x2="30.7" y2="448" stroke="#6a6a6a" stroke-width="1.3"/><line x1="82" y1="300" x2="82" y2="448" stroke="#6a6a6a" stroke-width="1.3"/><line x1="133.8" y1="300" x2="133.8" y2="448" stroke="#6a6a6a" stroke-width="1.3"/><line x1="164.8" y1="300" x2="164.8" y2="448" stroke="#6a6a6a" stroke-width="1.3"/><line x1="206.3" y1="300" x2="206.3" y2="448" stroke="#6a6a6a" stroke-width="1.3"/><line x1="244.5" y1="300" x2="244.5" y2="448" stroke="#6a6a6a" stroke-width="1.3"/><line x1="277.5" y1="300" x2="277.5" y2="448" stroke="#6a6a6a" stroke-width="1.3"/><line x1="302" y1="300" x2="302" y2="448" stroke="#6a6a6a" stroke-width="1.3"/><line x1="334.5" y1="300" x2="334.5" y2="448" stroke="#6a6a6a" stroke-width="1.3"/><line x1="359" y1="300" x2="359" y2="448" stroke="#6a6a6a" stroke-width="1.3"/><line x1="391.5" y1="300" x2="391.5" y2="448" stroke="#6a6a6a" stroke-width="1.3"/><line x1="416" y1="300" x2="416" y2="448" stroke="#6a6a6a" stroke-width="1.3"/><line x1="448.5" y1="300" x2="448.5" y2="448" stroke="#6a6a6a" stroke-width="1.3"/><line x1="473" y1="300" x2="473" y2="448" stroke="#6a6a6a" stroke-width="1.3"/><line x1="506" y1="300" x2="506" y2="448" stroke="#6a6a6a" stroke-width="1.3"/><line x1="531" y1="300" x2="531" y2="448" stroke="#6a6a6a" stroke-width="1.3"/><line x1="563.5" y1="300" x2="563.5" y2="448" stroke="#6a6a6a" stroke-width="1.3"/><line x1="588" y1="300" x2="588" y2="448" stroke="#6a6a6a" stroke-width="1.3"/><line x1="620.5" y1="300" x2="620.5" y2="448" stroke="#6a6a6a" stroke-width="1.3"/><line x1="644.7" y1="300" x2="644.7" y2="448" stroke="#6a6a6a" stroke-width="1.3"/><line x1="775.4" y1="300" x2="775.4" y2="448" stroke="#6a6a6a" stroke-width="1.3"/><line x1="823.8" y1="300" x2="823.8" y2="448" stroke="#6a6a6a" stroke-width="1.3"/><line x1="30.7" y1="263" x2="30.7" y2="300" stroke="#e2e2e6" stroke-width="1"/><line x1="82" y1="263" x2="82" y2="300" stroke="#e2e2e6" stroke-width="1"/><line x1="133.8" y1="263" x2="133.8" y2="300" stroke="#e2e2e6" stroke-width="1"/><line x1="164.8" y1="263" x2="164.8" y2="300" stroke="#e2e2e6" stroke-width="1"/><line x1="206.3" y1="263" x2="206.3" y2="300" stroke="#e2e2e6" stroke-width="1"/><line x1="244.5" y1="263" x2="244.5" y2="300" stroke="#e2e2e6" stroke-width="1"/><line x1="359" y1="263" x2="359" y2="300" stroke="#e2e2e6" stroke-width="1"/><line x1="416" y1="263" x2="416" y2="300" stroke="#e2e2e6" stroke-width="1"/><line x1="531" y1="263" x2="531" y2="300" stroke="#e2e2e6" stroke-width="1"/><line x1="588" y1="263" x2="588" y2="300" stroke="#e2e2e6" stroke-width="1"/><line x1="644.7" y1="263" x2="644.7" y2="300" stroke="#e2e2e6" stroke-width="1"/><line x1="775.4" y1="263" x2="775.4" y2="300" stroke="#e2e2e6" stroke-width="1"/><line x1="823.8" y1="263" x2="823.8" y2="300" stroke="#e2e2e6" stroke-width="1"/><line x1="277.5" y1="281" x2="277.5" y2="300" stroke="#e2e2e6" stroke-width="1"/><line x1="302" y1="281" x2="302" y2="300" stroke="#e2e2e6" stroke-width="1"/><line x1="334.5" y1="281" x2="334.5" y2="300" stroke="#e2e2e6" stroke-width="1"/><line x1="391.5" y1="281" x2="391.5" y2="300" stroke="#e2e2e6" stroke-width="1"/><line x1="448.5" y1="281" x2="448.5" y2="300" stroke="#e2e2e6" stroke-width="1"/><line x1="473" y1="281" x2="473" y2="300" stroke="#e2e2e6" stroke-width="1"/><line x1="506" y1="281" x2="506" y2="300" stroke="#e2e2e6" stroke-width="1"/><line x1="563.5" y1="281" x2="563.5" y2="300" stroke="#e2e2e6" stroke-width="1"/><line x1="620.5" y1="281" x2="620.5" y2="300" stroke="#e2e2e6" stroke-width="1"/><line x1="244.5" y1="280.6" x2="644.7" y2="280.6" stroke="#e4e4e8" stroke-width="1"/><rect x="13" y="262" width="832.5" height="186.5" fill="none" stroke="#8e97a3" stroke-width="1"/><line x1="13" y1="448" x2="823.8" y2="448" stroke="#6e737a" stroke-width="1.6"/><line x1="13.5" y1="262.5" x2="13.5" y2="448.5" stroke="#d4deec" stroke-width="1"/><line x1="14.6" y1="263" x2="14.6" y2="448.5" stroke="#8a8f98" stroke-width="1.2"/><text x="36.40" y="286.00" font-size="9" fill="#181c28" font-weight="bold" textLength="41.50" lengthAdjust="spacingAndGlyphs" stroke="#181c28" stroke-width="0.2">Sample No</text><text x="90.50" y="286.00" font-size="9" fill="#181c28" font-weight="bold" textLength="35.80" lengthAdjust="spacingAndGlyphs" stroke="#181c28" stroke-width="0.2">Patient Id</text><text x="141.40" y="286.00" font-size="9" fill="#181c28" font-weight="bold" textLength="16.90" lengthAdjust="spacingAndGlyphs" stroke="#181c28" stroke-width="0.2">Well</text><text x="174.90" y="286.00" font-size="9" fill="#181c28" font-weight="bold" textLength="22.80" lengthAdjust="spacingAndGlyphs" stroke="#181c28" stroke-width="0.2">Name</text><text x="217.20" y="286.00" font-size="9" fill="#181c28" font-weight="bold" textLength="17.40" lengthAdjust="spacingAndGlyphs" stroke="#181c28" stroke-width="0.2">Type</text><text x="293.40" y="275.80" font-size="9" fill="#181c28" font-weight="bold" textLength="16.70" lengthAdjust="spacingAndGlyphs" stroke="#181c28" stroke-width="0.2">FAM</text><text x="379.80" y="275.80" font-size="9" fill="#181c28" font-weight="bold" textLength="16.10" lengthAdjust="spacingAndGlyphs" stroke="#181c28" stroke-width="0.2">HEX</text><text x="450.60" y="275.80" font-size="9" fill="#181c28" font-weight="bold" textLength="46.40" lengthAdjust="spacingAndGlyphs" stroke="#181c28" stroke-width="0.2">Cal Red 610</text><text x="536.40" y="275.80" font-size="9" fill="#181c28" font-weight="bold" textLength="46.00" lengthAdjust="spacingAndGlyphs" stroke="#181c28" stroke-width="0.2">Quasar 670</text><text x="608.50" y="275.80" font-size="9" fill="#181c28" font-weight="bold" textLength="16.10" lengthAdjust="spacingAndGlyphs" stroke="#181c28" stroke-width="0.2">HEX</text><text x="672.00" y="286.00" font-size="9" fill="#181c28" font-weight="bold" textLength="18.50" lengthAdjust="spacingAndGlyphs" stroke="#181c28" stroke-width="0.2">Auto</text><text x="696.60" y="286.00" font-size="9" fill="#181c28" font-weight="bold" textLength="52.40" lengthAdjust="spacingAndGlyphs" stroke="#181c28" stroke-width="0.2">Interpretation</text><text x="781.40" y="286.00" font-size="9" fill="#181c28" font-weight="bold" textLength="38.70" lengthAdjust="spacingAndGlyphs" stroke="#181c28" stroke-width="0.2">Comment</text><text x="249.40" y="296.00" font-size="9" fill="#181c28" font-weight="bold" textLength="24.10" lengthAdjust="spacingAndGlyphs" stroke="#181c28" stroke-width="0.2">stx1/2</text><text x="282.50" y="296.00" font-size="9" fill="#181c28" font-weight="bold" textLength="14.00" lengthAdjust="spacingAndGlyphs" stroke="#181c28" stroke-width="0.2">C(t)</text><text x="308.60" y="296.00" font-size="9" fill="#181c28" font-weight="bold" textLength="20.40" lengthAdjust="spacingAndGlyphs" stroke="#181c28" stroke-width="0.2">eaeA</text><text x="339.40" y="296.00" font-size="9" fill="#181c28" font-weight="bold" textLength="14.10" lengthAdjust="spacingAndGlyphs" stroke="#181c28" stroke-width="0.2">C(t)</text><text x="368.70" y="296.00" font-size="9" fill="#181c28" font-weight="bold" textLength="14.70" lengthAdjust="spacingAndGlyphs" stroke="#181c28" stroke-width="0.2">It/st</text><text x="397.00" y="296.00" font-size="9" fill="#181c28" font-weight="bold" textLength="13.60" lengthAdjust="spacingAndGlyphs" stroke="#181c28" stroke-width="0.2">C(t)</text><text x="423.00" y="296.00" font-size="9" fill="#181c28" font-weight="bold" textLength="19.80" lengthAdjust="spacingAndGlyphs" stroke="#181c28" stroke-width="0.2">O157</text><text x="454.30" y="296.00" font-size="9" fill="#181c28" font-weight="bold" textLength="14.10" lengthAdjust="spacingAndGlyphs" stroke="#181c28" stroke-width="0.2">C(t)</text><text x="481.00" y="296.00" font-size="9" fill="#181c28" font-weight="bold" textLength="19.80" lengthAdjust="spacingAndGlyphs" stroke="#181c28" stroke-width="0.2">aggR</text><text x="511.70" y="296.00" font-size="9" fill="#181c28" font-weight="bold" textLength="13.80" lengthAdjust="spacingAndGlyphs" stroke="#181c28" stroke-width="0.2">C(t)</text><text x="536.00" y="296.00" font-size="9" fill="#181c28" font-weight="bold" textLength="24.50" lengthAdjust="spacingAndGlyphs" stroke="#181c28" stroke-width="0.2">CD h...</text><text x="568.80" y="296.00" font-size="9" fill="#181c28" font-weight="bold" textLength="13.60" lengthAdjust="spacingAndGlyphs" stroke="#181c28" stroke-width="0.2">C(t)</text><text x="599.50" y="296.00" font-size="9" fill="#181c28" font-weight="bold" textLength="7.50" lengthAdjust="spacingAndGlyphs" stroke="#181c28" stroke-width="0.2">IC</text><text x="625.60" y="296.00" font-size="9" fill="#181c28" font-weight="bold" textLength="14.00" lengthAdjust="spacingAndGlyphs" stroke="#181c28" stroke-width="0.2">C(t)</text><rect x="18.8" y="279.3" width="8.5" height="8.5" rx="1" fill="url(#cbg)" stroke="#a6a6a6" stroke-width="1"/><rect x="18.8" y="300.5" width="8.5" height="8.5" rx="1" fill="url(#cbg)" stroke="#a6a6a6" stroke-width="1"/><text x="149.80" y="308.60" font-size="9.8" fill="#1e1e1e" text-anchor="middle" textLength="14.80" lengthAdjust="spacingAndGlyphs" stroke="#1e1e1e" stroke-width="0.05">C06</text><text x="185.85" y="308.60" font-size="9.8" fill="#1e1e1e" text-anchor="middle" textLength="9.20" lengthAdjust="spacingAndGlyphs" stroke="#1e1e1e" stroke-width="0.05">43</text><text x="208.10" y="308.60" font-size="9.8" fill="#1e1e1e" textLength="34.20" lengthAdjust="spacingAndGlyphs" stroke="#1e1e1e" stroke-width="0.05">SAMPLE</text><rect x="259.2" y="305.0" width="3.6" height="1.1" fill="#1e1e1e"/><text x="289.75" y="308.60" font-size="9.8" fill="#1e1e1e" text-anchor="middle" textLength="16.20" lengthAdjust="spacingAndGlyphs" stroke="#1e1e1e" stroke-width="0.05">N/A</text><rect x="316.4" y="305.0" width="3.6" height="1.1" fill="#1e1e1e"/><text x="346.75" y="308.60" font-size="9.8" fill="#1e1e1e" text-anchor="middle" textLength="16.20" lengthAdjust="spacingAndGlyphs" stroke="#1e1e1e" stroke-width="0.05">N/A</text><rect x="373.4" y="305.0" width="3.6" height="1.1" fill="#1e1e1e"/><text x="403.75" y="308.60" font-size="9.8" fill="#1e1e1e" text-anchor="middle" textLength="16.20" lengthAdjust="spacingAndGlyphs" stroke="#1e1e1e" stroke-width="0.05">N/A</text><rect x="430.4" y="305.0" width="3.6" height="1.1" fill="#1e1e1e"/><text x="460.75" y="308.60" font-size="9.8" fill="#1e1e1e" text-anchor="middle" textLength="16.20" lengthAdjust="spacingAndGlyphs" stroke="#1e1e1e" stroke-width="0.05">N/A</text><rect x="487.7" y="305.0" width="3.6" height="1.1" fill="#1e1e1e"/><text x="518.50" y="308.60" font-size="9.8" fill="#1e1e1e" text-anchor="middle" textLength="16.20" lengthAdjust="spacingAndGlyphs" stroke="#1e1e1e" stroke-width="0.05">N/A</text><rect x="545.5" y="305.0" width="3.6" height="1.1" fill="#1e1e1e"/><text x="575.75" y="308.60" font-size="9.8" fill="#1e1e1e" text-anchor="middle" textLength="16.20" lengthAdjust="spacingAndGlyphs" stroke="#1e1e1e" stroke-width="0.05">N/A</text><path d="M602.5,305.4 h3.6 M604.2,303.6 v3.6" stroke="#3a0c0c" stroke-width="1.1"/><text x="632.20" y="308.60" font-size="9.8" fill="#1e1e1e" text-anchor="middle" textLength="19.70" lengthAdjust="spacingAndGlyphs" stroke="#1e1e1e" stroke-width="0.05">31,19</text><rect x="708.2" y="305.0" width="3.6" height="1.1" fill="#1e1e1e"/><rect x="18.8" y="315.1" width="8.5" height="8.5" rx="1" fill="url(#cbg)" stroke="#a6a6a6" stroke-width="1"/><text x="149.80" y="323.80" font-size="9.8" fill="#1e1e1e" text-anchor="middle" textLength="14.80" lengthAdjust="spacingAndGlyphs" stroke="#1e1e1e" stroke-width="0.05">D06</text><text x="185.85" y="323.80" font-size="9.8" fill="#1e1e1e" text-anchor="middle" textLength="9.20" lengthAdjust="spacingAndGlyphs" stroke="#1e1e1e" stroke-width="0.05">44</text><text x="208.10" y="323.80" font-size="9.8" fill="#1e1e1e" textLength="34.20" lengthAdjust="spacingAndGlyphs" stroke="#1e1e1e" stroke-width="0.05">SAMPLE</text><rect x="259.2" y="320.2" width="3.6" height="1.1" fill="#1e1e1e"/><text x="289.75" y="323.80" font-size="9.8" fill="#1e1e1e" text-anchor="middle" textLength="16.20" lengthAdjust="spacingAndGlyphs" stroke="#1e1e1e" stroke-width="0.05">N/A</text><rect x="316.4" y="320.2" width="3.6" height="1.1" fill="#1e1e1e"/><text x="346.75" y="323.80" font-size="9.8" fill="#1e1e1e" text-anchor="middle" textLength="16.20" lengthAdjust="spacingAndGlyphs" stroke="#1e1e1e" stroke-width="0.05">N/A</text><rect x="373.4" y="320.2" width="3.6" height="1.1" fill="#1e1e1e"/><text x="403.75" y="323.80" font-size="9.8" fill="#1e1e1e" text-anchor="middle" textLength="16.20" lengthAdjust="spacingAndGlyphs" stroke="#1e1e1e" stroke-width="0.05">N/A</text><rect x="430.4" y="320.2" width="3.6" height="1.1" fill="#1e1e1e"/><text x="460.75" y="323.80" font-size="9.8" fill="#1e1e1e" text-anchor="middle" textLength="16.20" lengthAdjust="spacingAndGlyphs" stroke="#1e1e1e" stroke-width="0.05">N/A</text><rect x="487.7" y="320.2" width="3.6" height="1.1" fill="#1e1e1e"/><text x="518.50" y="323.80" font-size="9.8" fill="#1e1e1e" text-anchor="middle" textLength="16.20" lengthAdjust="spacingAndGlyphs" stroke="#1e1e1e" stroke-width="0.05">N/A</text><rect x="545.5" y="320.2" width="3.6" height="1.1" fill="#1e1e1e"/><text x="575.75" y="323.80" font-size="9.8" fill="#1e1e1e" text-anchor="middle" textLength="16.20" lengthAdjust="spacingAndGlyphs" stroke="#1e1e1e" stroke-width="0.05">N/A</text><path d="M602.5,320.6 h3.6 M604.2,318.8 v3.6" stroke="#3a0c0c" stroke-width="1.1"/><text x="632.20" y="323.80" font-size="9.8" fill="#1e1e1e" text-anchor="middle" textLength="19.70" lengthAdjust="spacingAndGlyphs" stroke="#1e1e1e" stroke-width="0.05">29,09</text><rect x="708.2" y="320.2" width="3.6" height="1.1" fill="#1e1e1e"/><rect x="18.8" y="330.40000000000003" width="8.5" height="8.5" rx="1" fill="url(#cbg)" stroke="#a6a6a6" stroke-width="1"/><text x="149.80" y="339.00" font-size="9.8" fill="#1e1e1e" text-anchor="middle" textLength="14.80" lengthAdjust="spacingAndGlyphs" stroke="#1e1e1e" stroke-width="0.05">E06</text><text x="185.85" y="339.00" font-size="9.8" fill="#1e1e1e" text-anchor="middle" textLength="9.20" lengthAdjust="spacingAndGlyphs" stroke="#1e1e1e" stroke-width="0.05">45</text><text x="208.10" y="339.00" font-size="9.8" fill="#1e1e1e" textLength="34.20" lengthAdjust="spacingAndGlyphs" stroke="#1e1e1e" stroke-width="0.05">SAMPLE</text><rect x="259.2" y="335.4" width="3.6" height="1.1" fill="#1e1e1e"/><text x="289.75" y="339.00" font-size="9.8" fill="#1e1e1e" text-anchor="middle" textLength="16.20" lengthAdjust="spacingAndGlyphs" stroke="#1e1e1e" stroke-width="0.05">N/A</text><rect x="316.4" y="335.4" width="3.6" height="1.1" fill="#1e1e1e"/><text x="346.75" y="339.00" font-size="9.8" fill="#1e1e1e" text-anchor="middle" textLength="16.20" lengthAdjust="spacingAndGlyphs" stroke="#1e1e1e" stroke-width="0.05">N/A</text><rect x="373.4" y="335.4" width="3.6" height="1.1" fill="#1e1e1e"/><text x="403.75" y="339.00" font-size="9.8" fill="#1e1e1e" text-anchor="middle" textLength="16.20" lengthAdjust="spacingAndGlyphs" stroke="#1e1e1e" stroke-width="0.05">N/A</text><rect x="430.4" y="335.4" width="3.6" height="1.1" fill="#1e1e1e"/><text x="460.75" y="339.00" font-size="9.8" fill="#1e1e1e" text-anchor="middle" textLength="16.20" lengthAdjust="spacingAndGlyphs" stroke="#1e1e1e" stroke-width="0.05">N/A</text><rect x="487.7" y="335.4" width="3.6" height="1.1" fill="#1e1e1e"/><text x="518.50" y="339.00" font-size="9.8" fill="#1e1e1e" text-anchor="middle" textLength="16.20" lengthAdjust="spacingAndGlyphs" stroke="#1e1e1e" stroke-width="0.05">N/A</text><rect x="545.5" y="335.4" width="3.6" height="1.1" fill="#1e1e1e"/><text x="575.75" y="339.00" font-size="9.8" fill="#1e1e1e" text-anchor="middle" textLength="16.20" lengthAdjust="spacingAndGlyphs" stroke="#1e1e1e" stroke-width="0.05">N/A</text><path d="M602.5,335.8 h3.6 M604.2,334.0 v3.6" stroke="#3a0c0c" stroke-width="1.1"/><text x="632.20" y="339.00" font-size="9.8" fill="#1e1e1e" text-anchor="middle" textLength="19.70" lengthAdjust="spacingAndGlyphs" stroke="#1e1e1e" stroke-width="0.05">30,24</text><rect x="708.2" y="335.4" width="3.6" height="1.1" fill="#1e1e1e"/><rect x="18.8" y="345.6" width="8.5" height="8.5" rx="1" fill="url(#cbg)" stroke="#a6a6a6" stroke-width="1"/><text x="149.80" y="354.20" font-size="9.8" fill="#0e1c40" text-anchor="middle" textLength="14.80" lengthAdjust="spacingAndGlyphs" stroke="#0e1c40" stroke-width="0.05">F06</text><text x="185.85" y="354.20" font-size="9.8" fill="#0e1c40" text-anchor="middle" textLength="9.20" lengthAdjust="spacingAndGlyphs" stroke="#0e1c40" stroke-width="0.05">46</text><text x="208.10" y="354.20" font-size="9.8" fill="#0e1c40" textLength="34.20" lengthAdjust="spacingAndGlyphs" stroke="#0e1c40" stroke-width="0.05">SAMPLE</text><path d="M259.2,351.0 h3.6 M261.0,349.2 v3.6" stroke="#3a0c0c" stroke-width="1.1"/><text x="289.35" y="354.20" font-size="9.8" fill="#0e1c40" text-anchor="middle" textLength="19.70" lengthAdjust="spacingAndGlyphs" stroke="#0e1c40" stroke-width="0.05">26,91</text><path d="M316.4,351.0 h3.6 M318.2,349.2 v3.6" stroke="#3a0c0c" stroke-width="1.1"/><text x="346.35" y="354.20" font-size="9.8" fill="#0e1c40" text-anchor="middle" textLength="19.70" lengthAdjust="spacingAndGlyphs" stroke="#0e1c40" stroke-width="0.05">39,43</text><rect x="373.4" y="350.6" width="3.6" height="1.1" fill="#0e1c40"/><text x="403.75" y="354.20" font-size="9.8" fill="#0e1c40" text-anchor="middle" textLength="16.20" lengthAdjust="spacingAndGlyphs" stroke="#0e1c40" stroke-width="0.05">N/A</text><rect x="430.4" y="350.6" width="3.6" height="1.1" fill="#0e1c40"/><text x="460.75" y="354.20" font-size="9.8" fill="#0e1c40" text-anchor="middle" textLength="16.20" lengthAdjust="spacingAndGlyphs" stroke="#0e1c40" stroke-width="0.05">N/A</text><rect x="487.7" y="350.6" width="3.6" height="1.1" fill="#0e1c40"/><text x="518.50" y="354.20" font-size="9.8" fill="#0e1c40" text-anchor="middle" textLength="16.20" lengthAdjust="spacingAndGlyphs" stroke="#0e1c40" stroke-width="0.05">N/A</text><rect x="545.5" y="350.6" width="3.6" height="1.1" fill="#0e1c40"/><text x="575.75" y="354.20" font-size="9.8" fill="#0e1c40" text-anchor="middle" textLength="16.20" lengthAdjust="spacingAndGlyphs" stroke="#0e1c40" stroke-width="0.05">N/A</text><path d="M602.5,351.0 h3.6 M604.2,349.2 v3.6" stroke="#3a0c0c" stroke-width="1.1"/><text x="632.20" y="354.20" font-size="9.8" fill="#0e1c40" text-anchor="middle" textLength="19.70" lengthAdjust="spacingAndGlyphs" stroke="#0e1c40" stroke-width="0.05">32,31</text><text x="710.05" y="354.20" font-size="9.8" fill="#0e1c40" text-anchor="middle" textLength="47.10" lengthAdjust="spacingAndGlyphs" stroke="#0e1c40" stroke-width="0.05">stx1/2,eaeA</text><rect x="18.8" y="360.8" width="8.5" height="8.5" rx="1" fill="url(#cbg)" stroke="#a6a6a6" stroke-width="1"/><text x="149.80" y="369.40" font-size="9.8" fill="#1e1e1e" text-anchor="middle" textLength="14.80" lengthAdjust="spacingAndGlyphs" stroke="#1e1e1e" stroke-width="0.05">G06</text><text x="185.85" y="369.40" font-size="9.8" fill="#1e1e1e" text-anchor="middle" textLength="9.20" lengthAdjust="spacingAndGlyphs" stroke="#1e1e1e" stroke-width="0.05">47</text><text x="208.10" y="369.40" font-size="9.8" fill="#1e1e1e" textLength="34.20" lengthAdjust="spacingAndGlyphs" stroke="#1e1e1e" stroke-width="0.05">SAMPLE</text><rect x="259.2" y="365.8" width="3.6" height="1.1" fill="#1e1e1e"/><text x="289.75" y="369.40" font-size="9.8" fill="#1e1e1e" text-anchor="middle" textLength="16.20" lengthAdjust="spacingAndGlyphs" stroke="#1e1e1e" stroke-width="0.05">N/A</text><rect x="316.4" y="365.8" width="3.6" height="1.1" fill="#1e1e1e"/><text x="346.75" y="369.40" font-size="9.8" fill="#1e1e1e" text-anchor="middle" textLength="16.20" lengthAdjust="spacingAndGlyphs" stroke="#1e1e1e" stroke-width="0.05">N/A</text><rect x="373.4" y="365.8" width="3.6" height="1.1" fill="#1e1e1e"/><text x="403.75" y="369.40" font-size="9.8" fill="#1e1e1e" text-anchor="middle" textLength="16.20" lengthAdjust="spacingAndGlyphs" stroke="#1e1e1e" stroke-width="0.05">N/A</text><rect x="430.4" y="365.8" width="3.6" height="1.1" fill="#1e1e1e"/><text x="460.75" y="369.40" font-size="9.8" fill="#1e1e1e" text-anchor="middle" textLength="16.20" lengthAdjust="spacingAndGlyphs" stroke="#1e1e1e" stroke-width="0.05">N/A</text><rect x="487.7" y="365.8" width="3.6" height="1.1" fill="#1e1e1e"/><text x="518.50" y="369.40" font-size="9.8" fill="#1e1e1e" text-anchor="middle" textLength="16.20" lengthAdjust="spacingAndGlyphs" stroke="#1e1e1e" stroke-width="0.05">N/A</text><rect x="545.5" y="365.8" width="3.6" height="1.1" fill="#1e1e1e"/><text x="575.75" y="369.40" font-size="9.8" fill="#1e1e1e" text-anchor="middle" textLength="16.20" lengthAdjust="spacingAndGlyphs" stroke="#1e1e1e" stroke-width="0.05">N/A</text><path d="M602.5,366.2 h3.6 M604.2,364.4 v3.6" stroke="#3a0c0c" stroke-width="1.1"/><text x="632.20" y="369.40" font-size="9.8" fill="#1e1e1e" text-anchor="middle" textLength="19.70" lengthAdjust="spacingAndGlyphs" stroke="#1e1e1e" stroke-width="0.05">32,19</text><rect x="708.2" y="365.8" width="3.6" height="1.1" fill="#1e1e1e"/><rect x="18.8" y="376.0" width="8.5" height="8.5" rx="1" fill="url(#cbg)" stroke="#a6a6a6" stroke-width="1"/><text x="149.80" y="384.60" font-size="9.8" fill="#1e1e1e" text-anchor="middle" textLength="14.80" lengthAdjust="spacingAndGlyphs" stroke="#1e1e1e" stroke-width="0.05">H06</text><text x="185.85" y="384.60" font-size="9.8" fill="#1e1e1e" text-anchor="middle" textLength="9.20" lengthAdjust="spacingAndGlyphs" stroke="#1e1e1e" stroke-width="0.05">48</text><text x="208.10" y="384.60" font-size="9.8" fill="#1e1e1e" textLength="34.20" lengthAdjust="spacingAndGlyphs" stroke="#1e1e1e" stroke-width="0.05">SAMPLE</text><rect x="259.2" y="381.0" width="3.6" height="1.1" fill="#1e1e1e"/><text x="289.75" y="384.60" font-size="9.8" fill="#1e1e1e" text-anchor="middle" textLength="16.20" lengthAdjust="spacingAndGlyphs" stroke="#1e1e1e" stroke-width="0.05">N/A</text><rect x="316.4" y="381.0" width="3.6" height="1.1" fill="#1e1e1e"/><text x="346.75" y="384.60" font-size="9.8" fill="#1e1e1e" text-anchor="middle" textLength="16.20" lengthAdjust="spacingAndGlyphs" stroke="#1e1e1e" stroke-width="0.05">N/A</text><rect x="373.4" y="381.0" width="3.6" height="1.1" fill="#1e1e1e"/><text x="403.75" y="384.60" font-size="9.8" fill="#1e1e1e" text-anchor="middle" textLength="16.20" lengthAdjust="spacingAndGlyphs" stroke="#1e1e1e" stroke-width="0.05">N/A</text><rect x="430.4" y="381.0" width="3.6" height="1.1" fill="#1e1e1e"/><text x="460.75" y="384.60" font-size="9.8" fill="#1e1e1e" text-anchor="middle" textLength="16.20" lengthAdjust="spacingAndGlyphs" stroke="#1e1e1e" stroke-width="0.05">N/A</text><rect x="487.7" y="381.0" width="3.6" height="1.1" fill="#1e1e1e"/><text x="518.50" y="384.60" font-size="9.8" fill="#1e1e1e" text-anchor="middle" textLength="16.20" lengthAdjust="spacingAndGlyphs" stroke="#1e1e1e" stroke-width="0.05">N/A</text><rect x="545.5" y="381.0" width="3.6" height="1.1" fill="#1e1e1e"/><text x="575.75" y="384.60" font-size="9.8" fill="#1e1e1e" text-anchor="middle" textLength="16.20" lengthAdjust="spacingAndGlyphs" stroke="#1e1e1e" stroke-width="0.05">N/A</text><path d="M602.5,381.4 h3.6 M604.2,379.6 v3.6" stroke="#3a0c0c" stroke-width="1.1"/><text x="632.20" y="384.60" font-size="9.8" fill="#1e1e1e" text-anchor="middle" textLength="19.70" lengthAdjust="spacingAndGlyphs" stroke="#1e1e1e" stroke-width="0.05">30,80</text><rect x="708.2" y="381.0" width="3.6" height="1.1" fill="#1e1e1e"/><rect x="18.8" y="391.20000000000005" width="8.5" height="8.5" rx="1" fill="url(#cbg)" stroke="#a6a6a6" stroke-width="1"/><text x="149.80" y="399.80" font-size="9.8" fill="#1e1e1e" text-anchor="middle" textLength="14.80" lengthAdjust="spacingAndGlyphs" stroke="#1e1e1e" stroke-width="0.05">A07</text><text x="185.85" y="399.80" font-size="9.8" fill="#1e1e1e" text-anchor="middle" textLength="9.20" lengthAdjust="spacingAndGlyphs" stroke="#1e1e1e" stroke-width="0.05">49</text><text x="208.10" y="399.80" font-size="9.8" fill="#1e1e1e" textLength="34.20" lengthAdjust="spacingAndGlyphs" stroke="#1e1e1e" stroke-width="0.05">SAMPLE</text><rect x="259.2" y="396.2" width="3.6" height="1.1" fill="#1e1e1e"/><text x="289.75" y="399.80" font-size="9.8" fill="#1e1e1e" text-anchor="middle" textLength="16.20" lengthAdjust="spacingAndGlyphs" stroke="#1e1e1e" stroke-width="0.05">N/A</text><rect x="316.4" y="396.2" width="3.6" height="1.1" fill="#1e1e1e"/><text x="346.75" y="399.80" font-size="9.8" fill="#1e1e1e" text-anchor="middle" textLength="16.20" lengthAdjust="spacingAndGlyphs" stroke="#1e1e1e" stroke-width="0.05">N/A</text><rect x="373.4" y="396.2" width="3.6" height="1.1" fill="#1e1e1e"/><text x="403.75" y="399.80" font-size="9.8" fill="#1e1e1e" text-anchor="middle" textLength="16.20" lengthAdjust="spacingAndGlyphs" stroke="#1e1e1e" stroke-width="0.05">N/A</text><rect x="430.4" y="396.2" width="3.6" height="1.1" fill="#1e1e1e"/><text x="460.75" y="399.80" font-size="9.8" fill="#1e1e1e" text-anchor="middle" textLength="16.20" lengthAdjust="spacingAndGlyphs" stroke="#1e1e1e" stroke-width="0.05">N/A</text><rect x="487.7" y="396.2" width="3.6" height="1.1" fill="#1e1e1e"/><text x="518.50" y="399.80" font-size="9.8" fill="#1e1e1e" text-anchor="middle" textLength="16.20" lengthAdjust="spacingAndGlyphs" stroke="#1e1e1e" stroke-width="0.05">N/A</text><rect x="545.5" y="396.2" width="3.6" height="1.1" fill="#1e1e1e"/><text x="575.75" y="399.80" font-size="9.8" fill="#1e1e1e" text-anchor="middle" textLength="16.20" lengthAdjust="spacingAndGlyphs" stroke="#1e1e1e" stroke-width="0.05">N/A</text><path d="M602.5,396.6 h3.6 M604.2,394.8 v3.6" stroke="#3a0c0c" stroke-width="1.1"/><text x="632.20" y="399.80" font-size="9.8" fill="#1e1e1e" text-anchor="middle" textLength="19.70" lengthAdjust="spacingAndGlyphs" stroke="#1e1e1e" stroke-width="0.05">30,32</text><rect x="708.2" y="396.2" width="3.6" height="1.1" fill="#1e1e1e"/><rect x="18.8" y="406.40000000000003" width="8.5" height="8.5" rx="1" fill="url(#cbg)" stroke="#a6a6a6" stroke-width="1"/><text x="149.80" y="415.00" font-size="9.8" fill="#1e1e1e" text-anchor="middle" textLength="14.80" lengthAdjust="spacingAndGlyphs" stroke="#1e1e1e" stroke-width="0.05">B07</text><text x="185.85" y="415.00" font-size="9.8" fill="#1e1e1e" text-anchor="middle" textLength="9.20" lengthAdjust="spacingAndGlyphs" stroke="#1e1e1e" stroke-width="0.05">50</text><text x="208.10" y="415.00" font-size="9.8" fill="#1e1e1e" textLength="34.20" lengthAdjust="spacingAndGlyphs" stroke="#1e1e1e" stroke-width="0.05">SAMPLE</text><rect x="259.2" y="411.4" width="3.6" height="1.1" fill="#1e1e1e"/><text x="289.75" y="415.00" font-size="9.8" fill="#1e1e1e" text-anchor="middle" textLength="16.20" lengthAdjust="spacingAndGlyphs" stroke="#1e1e1e" stroke-width="0.05">N/A</text><rect x="316.4" y="411.4" width="3.6" height="1.1" fill="#1e1e1e"/><text x="346.75" y="415.00" font-size="9.8" fill="#1e1e1e" text-anchor="middle" textLength="16.20" lengthAdjust="spacingAndGlyphs" stroke="#1e1e1e" stroke-width="0.05">N/A</text><rect x="373.4" y="411.4" width="3.6" height="1.1" fill="#1e1e1e"/><text x="403.75" y="415.00" font-size="9.8" fill="#1e1e1e" text-anchor="middle" textLength="16.20" lengthAdjust="spacingAndGlyphs" stroke="#1e1e1e" stroke-width="0.05">N/A</text><rect x="430.4" y="411.4" width="3.6" height="1.1" fill="#1e1e1e"/><text x="460.75" y="415.00" font-size="9.8" fill="#1e1e1e" text-anchor="middle" textLength="16.20" lengthAdjust="spacingAndGlyphs" stroke="#1e1e1e" stroke-width="0.05">N/A</text><rect x="487.7" y="411.4" width="3.6" height="1.1" fill="#1e1e1e"/><text x="518.50" y="415.00" font-size="9.8" fill="#1e1e1e" text-anchor="middle" textLength="16.20" lengthAdjust="spacingAndGlyphs" stroke="#1e1e1e" stroke-width="0.05">N/A</text><rect x="545.5" y="411.4" width="3.6" height="1.1" fill="#1e1e1e"/><text x="575.75" y="415.00" font-size="9.8" fill="#1e1e1e" text-anchor="middle" textLength="16.20" lengthAdjust="spacingAndGlyphs" stroke="#1e1e1e" stroke-width="0.05">N/A</text><path d="M602.5,411.8 h3.6 M604.2,410.0 v3.6" stroke="#3a0c0c" stroke-width="1.1"/><text x="632.20" y="415.00" font-size="9.8" fill="#1e1e1e" text-anchor="middle" textLength="19.70" lengthAdjust="spacingAndGlyphs" stroke="#1e1e1e" stroke-width="0.05">32,02</text><rect x="708.2" y="411.4" width="3.6" height="1.1" fill="#1e1e1e"/><rect x="18.8" y="421.6" width="8.5" height="8.5" rx="1" fill="url(#cbg)" stroke="#a6a6a6" stroke-width="1"/><text x="149.80" y="430.20" font-size="9.8" fill="#1e1e1e" text-anchor="middle" textLength="14.80" lengthAdjust="spacingAndGlyphs" stroke="#1e1e1e" stroke-width="0.05">C07</text><text x="185.85" y="430.20" font-size="9.8" fill="#1e1e1e" text-anchor="middle" textLength="9.20" lengthAdjust="spacingAndGlyphs" stroke="#1e1e1e" stroke-width="0.05">51</text><text x="208.10" y="430.20" font-size="9.8" fill="#1e1e1e" textLength="34.20" lengthAdjust="spacingAndGlyphs" stroke="#1e1e1e" stroke-width="0.05">SAMPLE</text><rect x="259.2" y="426.6" width="3.6" height="1.1" fill="#1e1e1e"/><text x="289.75" y="430.20" font-size="9.8" fill="#1e1e1e" text-anchor="middle" textLength="16.20" lengthAdjust="spacingAndGlyphs" stroke="#1e1e1e" stroke-width="0.05">N/A</text><rect x="316.4" y="426.6" width="3.6" height="1.1" fill="#1e1e1e"/><text x="346.75" y="430.20" font-size="9.8" fill="#1e1e1e" text-anchor="middle" textLength="16.20" lengthAdjust="spacingAndGlyphs" stroke="#1e1e1e" stroke-width="0.05">N/A</text><rect x="373.4" y="426.6" width="3.6" height="1.1" fill="#1e1e1e"/><text x="403.75" y="430.20" font-size="9.8" fill="#1e1e1e" text-anchor="middle" textLength="16.20" lengthAdjust="spacingAndGlyphs" stroke="#1e1e1e" stroke-width="0.05">N/A</text><rect x="430.4" y="426.6" width="3.6" height="1.1" fill="#1e1e1e"/><text x="460.75" y="430.20" font-size="9.8" fill="#1e1e1e" text-anchor="middle" textLength="16.20" lengthAdjust="spacingAndGlyphs" stroke="#1e1e1e" stroke-width="0.05">N/A</text><rect x="487.7" y="426.6" width="3.6" height="1.1" fill="#1e1e1e"/><text x="518.50" y="430.20" font-size="9.8" fill="#1e1e1e" text-anchor="middle" textLength="16.20" lengthAdjust="spacingAndGlyphs" stroke="#1e1e1e" stroke-width="0.05">N/A</text><rect x="545.5" y="426.6" width="3.6" height="1.1" fill="#1e1e1e"/><text x="575.75" y="430.20" font-size="9.8" fill="#1e1e1e" text-anchor="middle" textLength="16.20" lengthAdjust="spacingAndGlyphs" stroke="#1e1e1e" stroke-width="0.05">N/A</text><path d="M602.5,427.0 h3.6 M604.2,425.2 v3.6" stroke="#3a0c0c" stroke-width="1.1"/><text x="632.20" y="430.20" font-size="9.8" fill="#1e1e1e" text-anchor="middle" textLength="19.70" lengthAdjust="spacingAndGlyphs" stroke="#1e1e1e" stroke-width="0.05">30,98</text><rect x="708.2" y="426.6" width="3.6" height="1.1" fill="#1e1e1e"/><rect x="18.8" y="436.8" width="8.5" height="8.5" rx="1" fill="url(#cbg)" stroke="#a6a6a6" stroke-width="1"/><text x="149.80" y="445.40" font-size="9.8" fill="#1e1e1e" text-anchor="middle" textLength="14.80" lengthAdjust="spacingAndGlyphs" stroke="#1e1e1e" stroke-width="0.05">D07</text><text x="185.85" y="445.40" font-size="9.8" fill="#1e1e1e" text-anchor="middle" textLength="9.20" lengthAdjust="spacingAndGlyphs" stroke="#1e1e1e" stroke-width="0.05">52</text><text x="208.10" y="445.40" font-size="9.8" fill="#1e1e1e" textLength="34.20" lengthAdjust="spacingAndGlyphs" stroke="#1e1e1e" stroke-width="0.05">SAMPLE</text><rect x="259.2" y="441.8" width="3.6" height="1.1" fill="#1e1e1e"/><text x="289.75" y="445.40" font-size="9.8" fill="#1e1e1e" text-anchor="middle" textLength="16.20" lengthAdjust="spacingAndGlyphs" stroke="#1e1e1e" stroke-width="0.05">N/A</text><rect x="316.4" y="441.8" width="3.6" height="1.1" fill="#1e1e1e"/><text x="346.75" y="445.40" font-size="9.8" fill="#1e1e1e" text-anchor="middle" textLength="16.20" lengthAdjust="spacingAndGlyphs" stroke="#1e1e1e" stroke-width="0.05">N/A</text><rect x="373.4" y="441.8" width="3.6" height="1.1" fill="#1e1e1e"/><text x="403.75" y="445.40" font-size="9.8" fill="#1e1e1e" text-anchor="middle" textLength="16.20" lengthAdjust="spacingAndGlyphs" stroke="#1e1e1e" stroke-width="0.05">N/A</text><rect x="430.4" y="441.8" width="3.6" height="1.1" fill="#1e1e1e"/><text x="460.75" y="445.40" font-size="9.8" fill="#1e1e1e" text-anchor="middle" textLength="16.20" lengthAdjust="spacingAndGlyphs" stroke="#1e1e1e" stroke-width="0.05">N/A</text><rect x="487.7" y="441.8" width="3.6" height="1.1" fill="#1e1e1e"/><text x="518.50" y="445.40" font-size="9.8" fill="#1e1e1e" text-anchor="middle" textLength="16.20" lengthAdjust="spacingAndGlyphs" stroke="#1e1e1e" stroke-width="0.05">N/A</text><rect x="545.5" y="441.8" width="3.6" height="1.1" fill="#1e1e1e"/><text x="575.75" y="445.40" font-size="9.8" fill="#1e1e1e" text-anchor="middle" textLength="16.20" lengthAdjust="spacingAndGlyphs" stroke="#1e1e1e" stroke-width="0.05">N/A</text><path d="M602.5,442.2 h3.6 M604.2,440.4 v3.6" stroke="#3a0c0c" stroke-width="1.1"/><text x="632.20" y="445.40" font-size="9.8" fill="#1e1e1e" text-anchor="middle" textLength="19.70" lengthAdjust="spacingAndGlyphs" stroke="#1e1e1e" stroke-width="0.05">30,26</text><rect x="708.2" y="441.8" width="3.6" height="1.1" fill="#1e1e1e"/><rect x="824.8" y="300" width="20.2" height="148" fill="#fff"/><rect x="832.5" y="300" width="12.5" height="148" fill="#f1f1f1"/><line x1="832.5" y1="300" x2="832.5" y2="448" stroke="#e2e2e2" stroke-width="1"/><path d="M836.3,308.3 L838.6,305.5 L840.9,308.3 Z" fill="#2a2a2a"/><rect x="834.5" y="390.5" width="8.5" height="16" rx="1.5" fill="#f6f6f6" stroke="#a2a2a2" stroke-width="1"/><path d="M836.8,396 h4 M836.8,398.5 h4 M836.8,401 h4" stroke="#a8a8a8" stroke-width="0.8"/><text x="650.00" y="253.80" font-size="9.6" fill="#222" textLength="49.50" lengthAdjust="spacingAndGlyphs" stroke="#222" stroke-width="0.15">Positive Find</text><rect x="702.5" y="246.5" width="8.5" height="8.5" fill="url(#cbg)" stroke="#a2a2a2" stroke-width="1"/><rect x="715.5" y="244.5" width="12.5" height="11.5" rx="2" fill="#f0f0f0" stroke="#8e8e8e" stroke-width="1"/><circle cx="721" cy="249.3" r="3.3" fill="#fafafa" stroke="#8a8a8a" stroke-width="1.1"/><line x1="723.4" y1="251.7" x2="726" y2="254.3" stroke="#804040" stroke-width="1.3"/><circle cx="749.3" cy="250.5" r="4.2" fill="#f2f2f2" stroke="#a4a4a4" stroke-width="1"/><circle cx="749.3" cy="250.5" r="2.2" fill="#1a5aa0"/><text x="757.20" y="253.80" font-size="9.5" fill="#222" textLength="29.00" lengthAdjust="spacingAndGlyphs" stroke="#222" stroke-width="0.15">Vertical</text><circle cx="795.5" cy="250.5" r="4.2" fill="#f2f2f2" stroke="#a4a4a4" stroke-width="1"/><text x="803.20" y="253.80" font-size="9.5" fill="#222" textLength="39.00" lengthAdjust="spacingAndGlyphs" stroke="#222" stroke-width="0.15">Horizontal</text></svg></body></html>
